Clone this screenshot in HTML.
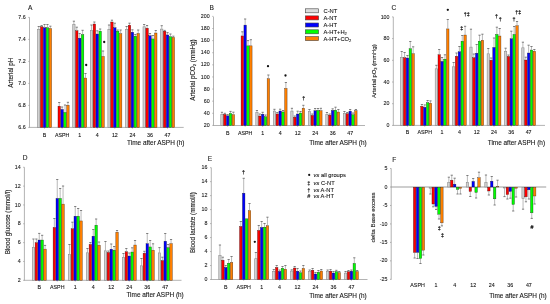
<!DOCTYPE html>
<html><head><meta charset="utf-8"><title>Figure</title>
<style>
html,body{margin:0;padding:0;background:#fff;}
body{width:550px;height:304px;overflow:hidden;}
svg{display:block;font-family:"Liberation Sans",sans-serif;filter:blur(0.3px);}
text{stroke:#151515;stroke-width:0.1px;}
</style></head><body>
<svg width="550" height="304" viewBox="0 0 550 304">
<g>
<rect width="550" height="304" fill="#fff"/>
<line x1="29.5" y1="17.4" x2="29.5" y2="127.8" stroke="#9a9a9a" stroke-width="0.75"/>
<line x1="29.5" y1="127.4" x2="183.7" y2="127.4" stroke="#9a9a9a" stroke-width="0.75"/>
<line x1="28.3" y1="127.4" x2="29.5" y2="127.4" stroke="#9a9a9a" stroke-width="0.75"/>
<text x="25.7" y="129" font-size="5.3" text-anchor="end" fill="#262626">6.6</text>
<line x1="28.3" y1="105.4" x2="29.5" y2="105.4" stroke="#9a9a9a" stroke-width="0.75"/>
<text x="25.7" y="107" font-size="5.3" text-anchor="end" fill="#262626">6.8</text>
<line x1="28.3" y1="83.4" x2="29.5" y2="83.4" stroke="#9a9a9a" stroke-width="0.75"/>
<text x="25.7" y="85" font-size="5.3" text-anchor="end" fill="#262626">7.0</text>
<line x1="28.3" y1="61.4" x2="29.5" y2="61.4" stroke="#9a9a9a" stroke-width="0.75"/>
<text x="25.7" y="63" font-size="5.3" text-anchor="end" fill="#262626">7.2</text>
<line x1="28.3" y1="39.4" x2="29.5" y2="39.4" stroke="#9a9a9a" stroke-width="0.75"/>
<text x="25.7" y="41" font-size="5.3" text-anchor="end" fill="#262626">7.4</text>
<line x1="28.3" y1="17.4" x2="29.5" y2="17.4" stroke="#9a9a9a" stroke-width="0.75"/>
<text x="25.7" y="19" font-size="5.3" text-anchor="end" fill="#262626">7.6</text>
<line x1="44.55" y1="127.4" x2="44.55" y2="128.6" stroke="#9a9a9a" stroke-width="0.75"/>
<text x="44.55" y="136.7" font-size="5.3" text-anchor="middle" fill="#151515">B</text>
<rect x="37.6" y="29.3" width="2.3" height="98.1" fill="#d2d2d2" stroke="#8a8a8a" stroke-width="0.6"/>
<line x1="38.75" y1="29" x2="38.75" y2="26.5" stroke="#8a8a8a" stroke-width="0.6"/>
<line x1="37.65" y1="26.5" x2="39.85" y2="26.5" stroke="#5a5a5a" stroke-width="0.75"/>
<rect x="40.42" y="26.72" width="2.46" height="100.68" fill="#ff0000" stroke="rgba(40,0,0,0.75)" stroke-width="0.45"/>
<line x1="41.65" y1="26.5" x2="41.65" y2="25.6" stroke="#8a8a8a" stroke-width="0.6"/>
<line x1="40.55" y1="25.6" x2="42.75" y2="25.6" stroke="#5a5a5a" stroke-width="0.75"/>
<rect x="43.32" y="27.72" width="2.46" height="99.68" fill="#0000ff" stroke="rgba(0,0,30,0.75)" stroke-width="0.45"/>
<line x1="44.55" y1="27.5" x2="44.55" y2="24.5" stroke="#8a8a8a" stroke-width="0.6"/>
<line x1="43.45" y1="24.5" x2="45.65" y2="24.5" stroke="#5a5a5a" stroke-width="0.75"/>
<rect x="46.22" y="27.72" width="2.46" height="99.68" fill="#00ff00" stroke="rgba(0,30,0,0.75)" stroke-width="0.45"/>
<line x1="47.45" y1="27.5" x2="47.45" y2="24.5" stroke="#8a8a8a" stroke-width="0.6"/>
<line x1="46.35" y1="24.5" x2="48.55" y2="24.5" stroke="#5a5a5a" stroke-width="0.75"/>
<rect x="49.12" y="28.52" width="2.46" height="98.88" fill="#ff8000" stroke="rgba(50,20,0,0.75)" stroke-width="0.45"/>
<line x1="50.35" y1="28.3" x2="50.35" y2="26.2" stroke="#8a8a8a" stroke-width="0.6"/>
<line x1="49.25" y1="26.2" x2="51.45" y2="26.2" stroke="#5a5a5a" stroke-width="0.75"/>
<line x1="62.12" y1="127.4" x2="62.12" y2="128.6" stroke="#9a9a9a" stroke-width="0.75"/>
<text x="62.12" y="136.7" font-size="5.3" text-anchor="middle" fill="#151515">ASPH</text>
<rect x="57.99" y="106.22" width="2.46" height="21.18" fill="#ff0000" stroke="rgba(40,0,0,0.75)" stroke-width="0.45"/>
<line x1="59.22" y1="106" x2="59.22" y2="102.5" stroke="#8a8a8a" stroke-width="0.6"/>
<line x1="58.12" y1="102.5" x2="60.32" y2="102.5" stroke="#5a5a5a" stroke-width="0.75"/>
<rect x="60.89" y="109.42" width="2.46" height="17.98" fill="#0000ff" stroke="rgba(0,0,30,0.75)" stroke-width="0.45"/>
<line x1="62.12" y1="109.2" x2="62.12" y2="107" stroke="#8a8a8a" stroke-width="0.6"/>
<line x1="61.02" y1="107" x2="63.22" y2="107" stroke="#5a5a5a" stroke-width="0.75"/>
<rect x="63.79" y="112.42" width="2.46" height="14.98" fill="#00ff00" stroke="rgba(0,30,0,0.75)" stroke-width="0.45"/>
<line x1="65.02" y1="112.2" x2="65.02" y2="105" stroke="#8a8a8a" stroke-width="0.6"/>
<line x1="63.92" y1="105" x2="66.12" y2="105" stroke="#5a5a5a" stroke-width="0.75"/>
<rect x="66.69" y="105.22" width="2.46" height="22.18" fill="#ff8000" stroke="rgba(50,20,0,0.75)" stroke-width="0.45"/>
<line x1="67.92" y1="105" x2="67.92" y2="102.3" stroke="#8a8a8a" stroke-width="0.6"/>
<line x1="66.82" y1="102.3" x2="69.02" y2="102.3" stroke="#5a5a5a" stroke-width="0.75"/>
<line x1="79.69" y1="127.4" x2="79.69" y2="128.6" stroke="#9a9a9a" stroke-width="0.75"/>
<text x="79.69" y="136.7" font-size="5.3" text-anchor="middle" fill="#151515">1</text>
<rect x="72.74" y="24.4" width="2.3" height="103" fill="#d2d2d2" stroke="#8a8a8a" stroke-width="0.6"/>
<line x1="73.89" y1="24.1" x2="73.89" y2="21.2" stroke="#8a8a8a" stroke-width="0.6"/>
<line x1="72.79" y1="21.2" x2="74.99" y2="21.2" stroke="#5a5a5a" stroke-width="0.75"/>
<rect x="75.56" y="30.72" width="2.46" height="96.68" fill="#ff0000" stroke="rgba(40,0,0,0.75)" stroke-width="0.45"/>
<line x1="76.79" y1="30.5" x2="76.79" y2="27.2" stroke="#8a8a8a" stroke-width="0.6"/>
<line x1="75.69" y1="27.2" x2="77.89" y2="27.2" stroke="#5a5a5a" stroke-width="0.75"/>
<rect x="78.46" y="38.22" width="2.46" height="89.18" fill="#0000ff" stroke="rgba(0,0,30,0.75)" stroke-width="0.45"/>
<line x1="79.69" y1="38" x2="79.69" y2="33.5" stroke="#8a8a8a" stroke-width="0.6"/>
<line x1="78.59" y1="33.5" x2="80.79" y2="33.5" stroke="#5a5a5a" stroke-width="0.75"/>
<rect x="81.36" y="34.52" width="2.46" height="92.88" fill="#00ff00" stroke="rgba(0,30,0,0.75)" stroke-width="0.45"/>
<line x1="82.59" y1="34.3" x2="82.59" y2="30.3" stroke="#8a8a8a" stroke-width="0.6"/>
<line x1="81.49" y1="30.3" x2="83.69" y2="30.3" stroke="#5a5a5a" stroke-width="0.75"/>
<rect x="84.26" y="78.02" width="2.46" height="49.38" fill="#ff8000" stroke="rgba(50,20,0,0.75)" stroke-width="0.45"/>
<line x1="85.49" y1="77.8" x2="85.49" y2="73.5" stroke="#8a8a8a" stroke-width="0.6"/>
<line x1="84.39" y1="73.5" x2="86.59" y2="73.5" stroke="#5a5a5a" stroke-width="0.75"/>
<line x1="97.26" y1="127.4" x2="97.26" y2="128.6" stroke="#9a9a9a" stroke-width="0.75"/>
<text x="97.26" y="136.7" font-size="5.3" text-anchor="middle" fill="#151515">4</text>
<rect x="90.31" y="30.3" width="2.3" height="97.1" fill="#d2d2d2" stroke="#8a8a8a" stroke-width="0.6"/>
<line x1="91.46" y1="30" x2="91.46" y2="25" stroke="#8a8a8a" stroke-width="0.6"/>
<line x1="90.36" y1="25" x2="92.56" y2="25" stroke="#5a5a5a" stroke-width="0.75"/>
<rect x="93.13" y="24.02" width="2.46" height="103.38" fill="#ff0000" stroke="rgba(40,0,0,0.75)" stroke-width="0.45"/>
<line x1="94.36" y1="23.8" x2="94.36" y2="22" stroke="#8a8a8a" stroke-width="0.6"/>
<line x1="93.26" y1="22" x2="95.46" y2="22" stroke="#5a5a5a" stroke-width="0.75"/>
<rect x="96.03" y="34.02" width="2.46" height="93.38" fill="#0000ff" stroke="rgba(0,0,30,0.75)" stroke-width="0.45"/>
<line x1="97.26" y1="33.8" x2="97.26" y2="30.8" stroke="#8a8a8a" stroke-width="0.6"/>
<line x1="96.16" y1="30.8" x2="98.36" y2="30.8" stroke="#5a5a5a" stroke-width="0.75"/>
<rect x="98.93" y="31.22" width="2.46" height="96.18" fill="#00ff00" stroke="rgba(0,30,0,0.75)" stroke-width="0.45"/>
<line x1="100.16" y1="31" x2="100.16" y2="29" stroke="#8a8a8a" stroke-width="0.6"/>
<line x1="99.06" y1="29" x2="101.26" y2="29" stroke="#5a5a5a" stroke-width="0.75"/>
<rect x="101.83" y="56.42" width="2.46" height="70.98" fill="#ff8000" stroke="rgba(50,20,0,0.75)" stroke-width="0.45"/>
<line x1="103.06" y1="56.2" x2="103.06" y2="51" stroke="#8a8a8a" stroke-width="0.6"/>
<line x1="101.96" y1="51" x2="104.16" y2="51" stroke="#5a5a5a" stroke-width="0.75"/>
<line x1="114.83" y1="127.4" x2="114.83" y2="128.6" stroke="#9a9a9a" stroke-width="0.75"/>
<text x="114.83" y="136.7" font-size="5.3" text-anchor="middle" fill="#151515">12</text>
<rect x="107.88" y="29.3" width="2.3" height="98.1" fill="#d2d2d2" stroke="#8a8a8a" stroke-width="0.6"/>
<line x1="109.03" y1="29" x2="109.03" y2="25" stroke="#8a8a8a" stroke-width="0.6"/>
<line x1="107.93" y1="25" x2="110.13" y2="25" stroke="#5a5a5a" stroke-width="0.75"/>
<rect x="110.7" y="22.02" width="2.46" height="105.38" fill="#ff0000" stroke="rgba(40,0,0,0.75)" stroke-width="0.45"/>
<line x1="111.93" y1="21.8" x2="111.93" y2="20.2" stroke="#8a8a8a" stroke-width="0.6"/>
<line x1="110.83" y1="20.2" x2="113.03" y2="20.2" stroke="#5a5a5a" stroke-width="0.75"/>
<rect x="113.6" y="27.72" width="2.46" height="99.68" fill="#0000ff" stroke="rgba(0,0,30,0.75)" stroke-width="0.45"/>
<line x1="114.83" y1="27.5" x2="114.83" y2="23.2" stroke="#8a8a8a" stroke-width="0.6"/>
<line x1="113.73" y1="23.2" x2="115.93" y2="23.2" stroke="#5a5a5a" stroke-width="0.75"/>
<rect x="116.5" y="31.22" width="2.46" height="96.18" fill="#00ff00" stroke="rgba(0,30,0,0.75)" stroke-width="0.45"/>
<line x1="117.73" y1="31" x2="117.73" y2="30" stroke="#8a8a8a" stroke-width="0.6"/>
<line x1="116.63" y1="30" x2="118.83" y2="30" stroke="#5a5a5a" stroke-width="0.75"/>
<rect x="119.4" y="33.72" width="2.46" height="93.68" fill="#ff8000" stroke="rgba(50,20,0,0.75)" stroke-width="0.45"/>
<line x1="120.63" y1="33.5" x2="120.63" y2="30" stroke="#8a8a8a" stroke-width="0.6"/>
<line x1="119.53" y1="30" x2="121.73" y2="30" stroke="#5a5a5a" stroke-width="0.75"/>
<line x1="132.4" y1="127.4" x2="132.4" y2="128.6" stroke="#9a9a9a" stroke-width="0.75"/>
<text x="132.4" y="136.7" font-size="5.3" text-anchor="middle" fill="#151515">24</text>
<rect x="125.45" y="29.3" width="2.3" height="98.1" fill="#d2d2d2" stroke="#8a8a8a" stroke-width="0.6"/>
<line x1="126.6" y1="29" x2="126.6" y2="26.5" stroke="#8a8a8a" stroke-width="0.6"/>
<line x1="125.5" y1="26.5" x2="127.7" y2="26.5" stroke="#5a5a5a" stroke-width="0.75"/>
<rect x="128.27" y="25.22" width="2.46" height="102.18" fill="#ff0000" stroke="rgba(40,0,0,0.75)" stroke-width="0.45"/>
<line x1="129.5" y1="25" x2="129.5" y2="23.2" stroke="#8a8a8a" stroke-width="0.6"/>
<line x1="128.4" y1="23.2" x2="130.6" y2="23.2" stroke="#5a5a5a" stroke-width="0.75"/>
<rect x="131.17" y="32.22" width="2.46" height="95.18" fill="#0000ff" stroke="rgba(0,0,30,0.75)" stroke-width="0.45"/>
<line x1="132.4" y1="32" x2="132.4" y2="29.8" stroke="#8a8a8a" stroke-width="0.6"/>
<line x1="131.3" y1="29.8" x2="133.5" y2="29.8" stroke="#5a5a5a" stroke-width="0.75"/>
<rect x="134.07" y="36.22" width="2.46" height="91.18" fill="#00ff00" stroke="rgba(0,30,0,0.75)" stroke-width="0.45"/>
<line x1="135.3" y1="36" x2="135.3" y2="34.5" stroke="#8a8a8a" stroke-width="0.6"/>
<line x1="134.2" y1="34.5" x2="136.4" y2="34.5" stroke="#5a5a5a" stroke-width="0.75"/>
<rect x="136.97" y="33.42" width="2.46" height="93.98" fill="#ff8000" stroke="rgba(50,20,0,0.75)" stroke-width="0.45"/>
<line x1="138.2" y1="33.2" x2="138.2" y2="30" stroke="#8a8a8a" stroke-width="0.6"/>
<line x1="137.1" y1="30" x2="139.3" y2="30" stroke="#5a5a5a" stroke-width="0.75"/>
<line x1="149.97" y1="127.4" x2="149.97" y2="128.6" stroke="#9a9a9a" stroke-width="0.75"/>
<text x="149.97" y="136.7" font-size="5.3" text-anchor="middle" fill="#151515">36</text>
<rect x="143.02" y="26.8" width="2.3" height="100.6" fill="#d2d2d2" stroke="#8a8a8a" stroke-width="0.6"/>
<line x1="144.17" y1="26.5" x2="144.17" y2="24.5" stroke="#8a8a8a" stroke-width="0.6"/>
<line x1="143.07" y1="24.5" x2="145.27" y2="24.5" stroke="#5a5a5a" stroke-width="0.75"/>
<rect x="145.84" y="28.22" width="2.46" height="99.18" fill="#ff0000" stroke="rgba(40,0,0,0.75)" stroke-width="0.45"/>
<line x1="147.07" y1="28" x2="147.07" y2="25.5" stroke="#8a8a8a" stroke-width="0.6"/>
<line x1="145.97" y1="25.5" x2="148.17" y2="25.5" stroke="#5a5a5a" stroke-width="0.75"/>
<rect x="148.74" y="35.72" width="2.46" height="91.68" fill="#0000ff" stroke="rgba(0,0,30,0.75)" stroke-width="0.45"/>
<line x1="149.97" y1="35.5" x2="149.97" y2="33.5" stroke="#8a8a8a" stroke-width="0.6"/>
<line x1="148.87" y1="33.5" x2="151.07" y2="33.5" stroke="#5a5a5a" stroke-width="0.75"/>
<rect x="151.64" y="38.92" width="2.46" height="88.48" fill="#00ff00" stroke="rgba(0,30,0,0.75)" stroke-width="0.45"/>
<line x1="152.87" y1="38.7" x2="152.87" y2="35.5" stroke="#8a8a8a" stroke-width="0.6"/>
<line x1="151.77" y1="35.5" x2="153.97" y2="35.5" stroke="#5a5a5a" stroke-width="0.75"/>
<rect x="154.54" y="33.02" width="2.46" height="94.38" fill="#ff8000" stroke="rgba(50,20,0,0.75)" stroke-width="0.45"/>
<line x1="155.77" y1="32.8" x2="155.77" y2="30.5" stroke="#8a8a8a" stroke-width="0.6"/>
<line x1="154.67" y1="30.5" x2="156.87" y2="30.5" stroke="#5a5a5a" stroke-width="0.75"/>
<line x1="167.54" y1="127.4" x2="167.54" y2="128.6" stroke="#9a9a9a" stroke-width="0.75"/>
<text x="167.54" y="136.7" font-size="5.3" text-anchor="middle" fill="#151515">47</text>
<rect x="160.59" y="29.1" width="2.3" height="98.3" fill="#d2d2d2" stroke="#8a8a8a" stroke-width="0.6"/>
<line x1="161.74" y1="28.8" x2="161.74" y2="25.7" stroke="#8a8a8a" stroke-width="0.6"/>
<line x1="160.64" y1="25.7" x2="162.84" y2="25.7" stroke="#5a5a5a" stroke-width="0.75"/>
<rect x="163.41" y="31.22" width="2.46" height="96.18" fill="#ff0000" stroke="rgba(40,0,0,0.75)" stroke-width="0.45"/>
<line x1="164.64" y1="31" x2="164.64" y2="30.4" stroke="#8a8a8a" stroke-width="0.6"/>
<line x1="163.54" y1="30.4" x2="165.74" y2="30.4" stroke="#5a5a5a" stroke-width="0.75"/>
<rect x="166.31" y="34.92" width="2.46" height="92.48" fill="#0000ff" stroke="rgba(0,0,30,0.75)" stroke-width="0.45"/>
<line x1="167.54" y1="34.7" x2="167.54" y2="32.6" stroke="#8a8a8a" stroke-width="0.6"/>
<line x1="166.44" y1="32.6" x2="168.64" y2="32.6" stroke="#5a5a5a" stroke-width="0.75"/>
<rect x="169.21" y="36.72" width="2.46" height="90.68" fill="#00ff00" stroke="rgba(0,30,0,0.75)" stroke-width="0.45"/>
<line x1="170.44" y1="36.5" x2="170.44" y2="34" stroke="#8a8a8a" stroke-width="0.6"/>
<line x1="169.34" y1="34" x2="171.54" y2="34" stroke="#5a5a5a" stroke-width="0.75"/>
<rect x="172.11" y="37.42" width="2.46" height="89.98" fill="#ff8000" stroke="rgba(50,20,0,0.75)" stroke-width="0.45"/>
<line x1="173.34" y1="37.2" x2="173.34" y2="36.2" stroke="#8a8a8a" stroke-width="0.6"/>
<line x1="172.24" y1="36.2" x2="174.44" y2="36.2" stroke="#5a5a5a" stroke-width="0.75"/>
<circle cx="86.2" cy="65" r="1.15" fill="#111"/>
<circle cx="104.2" cy="42" r="1.15" fill="#111"/>
<text x="27.9" y="9.6" font-size="6.6" text-anchor="start" fill="#222">A</text>
<text transform="translate(11.4 72.7) rotate(-90)" x="0" y="1.9" font-size="6.35" text-anchor="middle" fill="#151515">Arterial pH</text>
<text x="127.1" y="144.9" font-size="6.45" text-anchor="start" fill="#151515">Time after ASPH (h)</text>
<line x1="213.5" y1="16.9" x2="213.5" y2="125.9" stroke="#9a9a9a" stroke-width="0.75"/>
<line x1="213.5" y1="125.5" x2="365" y2="125.5" stroke="#9a9a9a" stroke-width="0.75"/>
<line x1="212.3" y1="125.4" x2="213.5" y2="125.4" stroke="#9a9a9a" stroke-width="0.75"/>
<text x="209.7" y="127" font-size="5.3" text-anchor="end" fill="#262626">20</text>
<line x1="212.3" y1="113.29" x2="213.5" y2="113.29" stroke="#9a9a9a" stroke-width="0.75"/>
<text x="209.7" y="114.89" font-size="5.3" text-anchor="end" fill="#262626">40</text>
<line x1="212.3" y1="101.18" x2="213.5" y2="101.18" stroke="#9a9a9a" stroke-width="0.75"/>
<text x="209.7" y="102.78" font-size="5.3" text-anchor="end" fill="#262626">60</text>
<line x1="212.3" y1="89.06" x2="213.5" y2="89.06" stroke="#9a9a9a" stroke-width="0.75"/>
<text x="209.7" y="90.66" font-size="5.3" text-anchor="end" fill="#262626">80</text>
<line x1="212.3" y1="76.95" x2="213.5" y2="76.95" stroke="#9a9a9a" stroke-width="0.75"/>
<text x="209.7" y="78.55" font-size="5.3" text-anchor="end" fill="#262626">100</text>
<line x1="212.3" y1="64.84" x2="213.5" y2="64.84" stroke="#9a9a9a" stroke-width="0.75"/>
<text x="209.7" y="66.44" font-size="5.3" text-anchor="end" fill="#262626">120</text>
<line x1="212.3" y1="52.73" x2="213.5" y2="52.73" stroke="#9a9a9a" stroke-width="0.75"/>
<text x="209.7" y="54.33" font-size="5.3" text-anchor="end" fill="#262626">140</text>
<line x1="212.3" y1="40.62" x2="213.5" y2="40.62" stroke="#9a9a9a" stroke-width="0.75"/>
<text x="209.7" y="42.22" font-size="5.3" text-anchor="end" fill="#262626">160</text>
<line x1="212.3" y1="28.5" x2="213.5" y2="28.5" stroke="#9a9a9a" stroke-width="0.75"/>
<text x="209.7" y="30.1" font-size="5.3" text-anchor="end" fill="#262626">180</text>
<line x1="212.3" y1="16.39" x2="213.5" y2="16.39" stroke="#9a9a9a" stroke-width="0.75"/>
<text x="209.7" y="17.99" font-size="5.3" text-anchor="end" fill="#262626">200</text>
<line x1="227.65" y1="125.5" x2="227.65" y2="126.7" stroke="#9a9a9a" stroke-width="0.75"/>
<text x="227.65" y="134.8" font-size="5.3" text-anchor="middle" fill="#151515">B</text>
<rect x="220.8" y="114.3" width="2.26" height="11.2" fill="#d2d2d2" stroke="#8a8a8a" stroke-width="0.6"/>
<line x1="221.93" y1="114" x2="221.93" y2="112.3" stroke="#8a8a8a" stroke-width="0.6"/>
<line x1="220.83" y1="112.3" x2="223.03" y2="112.3" stroke="#5a5a5a" stroke-width="0.75"/>
<rect x="223.58" y="114.42" width="2.42" height="11.08" fill="#ff0000" stroke="rgba(40,0,0,0.75)" stroke-width="0.45"/>
<line x1="224.79" y1="114.2" x2="224.79" y2="113.3" stroke="#8a8a8a" stroke-width="0.6"/>
<line x1="223.69" y1="113.3" x2="225.89" y2="113.3" stroke="#5a5a5a" stroke-width="0.75"/>
<rect x="226.44" y="115.82" width="2.42" height="9.68" fill="#0000ff" stroke="rgba(0,0,30,0.75)" stroke-width="0.45"/>
<line x1="227.65" y1="115.6" x2="227.65" y2="114.6" stroke="#8a8a8a" stroke-width="0.6"/>
<line x1="226.55" y1="114.6" x2="228.75" y2="114.6" stroke="#5a5a5a" stroke-width="0.75"/>
<rect x="229.3" y="113.42" width="2.42" height="12.08" fill="#00ff00" stroke="rgba(0,30,0,0.75)" stroke-width="0.45"/>
<line x1="230.51" y1="113.2" x2="230.51" y2="111.4" stroke="#8a8a8a" stroke-width="0.6"/>
<line x1="229.41" y1="111.4" x2="231.61" y2="111.4" stroke="#5a5a5a" stroke-width="0.75"/>
<rect x="232.16" y="114.72" width="2.42" height="10.78" fill="#ff8000" stroke="rgba(50,20,0,0.75)" stroke-width="0.45"/>
<line x1="233.37" y1="114.5" x2="233.37" y2="112.2" stroke="#8a8a8a" stroke-width="0.6"/>
<line x1="232.27" y1="112.2" x2="234.47" y2="112.2" stroke="#5a5a5a" stroke-width="0.75"/>
<line x1="245.15" y1="125.5" x2="245.15" y2="126.7" stroke="#9a9a9a" stroke-width="0.75"/>
<text x="245.15" y="134.8" font-size="5.3" text-anchor="middle" fill="#151515">ASPH</text>
<rect x="241.08" y="35.92" width="2.42" height="89.58" fill="#ff0000" stroke="rgba(40,0,0,0.75)" stroke-width="0.45"/>
<line x1="242.29" y1="35.7" x2="242.29" y2="31.8" stroke="#8a8a8a" stroke-width="0.6"/>
<line x1="241.19" y1="31.8" x2="243.39" y2="31.8" stroke="#5a5a5a" stroke-width="0.75"/>
<rect x="243.94" y="25.12" width="2.42" height="100.38" fill="#0000ff" stroke="rgba(0,0,30,0.75)" stroke-width="0.45"/>
<line x1="245.15" y1="24.9" x2="245.15" y2="19" stroke="#8a8a8a" stroke-width="0.6"/>
<line x1="244.05" y1="19" x2="246.25" y2="19" stroke="#5a5a5a" stroke-width="0.75"/>
<rect x="246.8" y="45.82" width="2.42" height="79.68" fill="#00ff00" stroke="rgba(0,30,0,0.75)" stroke-width="0.45"/>
<line x1="248.01" y1="45.6" x2="248.01" y2="40.6" stroke="#8a8a8a" stroke-width="0.6"/>
<line x1="246.91" y1="40.6" x2="249.11" y2="40.6" stroke="#5a5a5a" stroke-width="0.75"/>
<rect x="249.66" y="45.82" width="2.42" height="79.68" fill="#ff8000" stroke="rgba(50,20,0,0.75)" stroke-width="0.45"/>
<line x1="250.87" y1="45.6" x2="250.87" y2="39.7" stroke="#8a8a8a" stroke-width="0.6"/>
<line x1="249.77" y1="39.7" x2="251.97" y2="39.7" stroke="#5a5a5a" stroke-width="0.75"/>
<line x1="262.65" y1="125.5" x2="262.65" y2="126.7" stroke="#9a9a9a" stroke-width="0.75"/>
<text x="262.65" y="134.8" font-size="5.3" text-anchor="middle" fill="#151515">1</text>
<rect x="255.8" y="112.3" width="2.26" height="13.2" fill="#d2d2d2" stroke="#8a8a8a" stroke-width="0.6"/>
<line x1="256.93" y1="112" x2="256.93" y2="110.5" stroke="#8a8a8a" stroke-width="0.6"/>
<line x1="255.83" y1="110.5" x2="258.03" y2="110.5" stroke="#5a5a5a" stroke-width="0.75"/>
<rect x="258.58" y="116.02" width="2.42" height="9.48" fill="#ff0000" stroke="rgba(40,0,0,0.75)" stroke-width="0.45"/>
<line x1="259.79" y1="115.8" x2="259.79" y2="114" stroke="#8a8a8a" stroke-width="0.6"/>
<line x1="258.69" y1="114" x2="260.89" y2="114" stroke="#5a5a5a" stroke-width="0.75"/>
<rect x="261.44" y="114.22" width="2.42" height="11.28" fill="#0000ff" stroke="rgba(0,0,30,0.75)" stroke-width="0.45"/>
<line x1="262.65" y1="114" x2="262.65" y2="112.3" stroke="#8a8a8a" stroke-width="0.6"/>
<line x1="261.55" y1="112.3" x2="263.75" y2="112.3" stroke="#5a5a5a" stroke-width="0.75"/>
<rect x="264.3" y="116.72" width="2.42" height="8.78" fill="#00ff00" stroke="rgba(0,30,0,0.75)" stroke-width="0.45"/>
<line x1="265.51" y1="116.5" x2="265.51" y2="115" stroke="#8a8a8a" stroke-width="0.6"/>
<line x1="264.41" y1="115" x2="266.61" y2="115" stroke="#5a5a5a" stroke-width="0.75"/>
<rect x="267.16" y="78.72" width="2.42" height="46.78" fill="#ff8000" stroke="rgba(50,20,0,0.75)" stroke-width="0.45"/>
<line x1="268.37" y1="78.5" x2="268.37" y2="75" stroke="#8a8a8a" stroke-width="0.6"/>
<line x1="267.27" y1="75" x2="269.47" y2="75" stroke="#5a5a5a" stroke-width="0.75"/>
<line x1="280.15" y1="125.5" x2="280.15" y2="126.7" stroke="#9a9a9a" stroke-width="0.75"/>
<text x="280.15" y="134.8" font-size="5.3" text-anchor="middle" fill="#151515">4</text>
<rect x="273.3" y="111.1" width="2.26" height="14.4" fill="#d2d2d2" stroke="#8a8a8a" stroke-width="0.6"/>
<line x1="274.43" y1="110.8" x2="274.43" y2="109.3" stroke="#8a8a8a" stroke-width="0.6"/>
<line x1="273.33" y1="109.3" x2="275.53" y2="109.3" stroke="#5a5a5a" stroke-width="0.75"/>
<rect x="276.08" y="113.92" width="2.42" height="11.58" fill="#ff0000" stroke="rgba(40,0,0,0.75)" stroke-width="0.45"/>
<line x1="277.29" y1="113.7" x2="277.29" y2="112.5" stroke="#8a8a8a" stroke-width="0.6"/>
<line x1="276.19" y1="112.5" x2="278.39" y2="112.5" stroke="#5a5a5a" stroke-width="0.75"/>
<rect x="278.94" y="111.02" width="2.42" height="14.48" fill="#0000ff" stroke="rgba(0,0,30,0.75)" stroke-width="0.45"/>
<line x1="280.15" y1="110.8" x2="280.15" y2="109.2" stroke="#8a8a8a" stroke-width="0.6"/>
<line x1="279.05" y1="109.2" x2="281.25" y2="109.2" stroke="#5a5a5a" stroke-width="0.75"/>
<rect x="281.8" y="111.92" width="2.42" height="13.58" fill="#00ff00" stroke="rgba(0,30,0,0.75)" stroke-width="0.45"/>
<line x1="283.01" y1="111.7" x2="283.01" y2="110.5" stroke="#8a8a8a" stroke-width="0.6"/>
<line x1="281.91" y1="110.5" x2="284.11" y2="110.5" stroke="#5a5a5a" stroke-width="0.75"/>
<rect x="284.66" y="88.42" width="2.42" height="37.08" fill="#ff8000" stroke="rgba(50,20,0,0.75)" stroke-width="0.45"/>
<line x1="285.87" y1="88.2" x2="285.87" y2="82.5" stroke="#8a8a8a" stroke-width="0.6"/>
<line x1="284.77" y1="82.5" x2="286.97" y2="82.5" stroke="#5a5a5a" stroke-width="0.75"/>
<line x1="297.65" y1="125.5" x2="297.65" y2="126.7" stroke="#9a9a9a" stroke-width="0.75"/>
<text x="297.65" y="134.8" font-size="5.3" text-anchor="middle" fill="#151515">12</text>
<rect x="290.8" y="111.1" width="2.26" height="14.4" fill="#d2d2d2" stroke="#8a8a8a" stroke-width="0.6"/>
<line x1="291.93" y1="110.8" x2="291.93" y2="108.3" stroke="#8a8a8a" stroke-width="0.6"/>
<line x1="290.83" y1="108.3" x2="293.03" y2="108.3" stroke="#5a5a5a" stroke-width="0.75"/>
<rect x="293.58" y="117.22" width="2.42" height="8.28" fill="#ff0000" stroke="rgba(40,0,0,0.75)" stroke-width="0.45"/>
<line x1="294.79" y1="117" x2="294.79" y2="116" stroke="#8a8a8a" stroke-width="0.6"/>
<line x1="293.69" y1="116" x2="295.89" y2="116" stroke="#5a5a5a" stroke-width="0.75"/>
<rect x="296.44" y="114.02" width="2.42" height="11.48" fill="#0000ff" stroke="rgba(0,0,30,0.75)" stroke-width="0.45"/>
<line x1="297.65" y1="113.8" x2="297.65" y2="111.2" stroke="#8a8a8a" stroke-width="0.6"/>
<line x1="296.55" y1="111.2" x2="298.75" y2="111.2" stroke="#5a5a5a" stroke-width="0.75"/>
<rect x="299.3" y="113.02" width="2.42" height="12.48" fill="#00ff00" stroke="rgba(0,30,0,0.75)" stroke-width="0.45"/>
<line x1="300.51" y1="112.8" x2="300.51" y2="111.5" stroke="#8a8a8a" stroke-width="0.6"/>
<line x1="299.41" y1="111.5" x2="301.61" y2="111.5" stroke="#5a5a5a" stroke-width="0.75"/>
<rect x="302.16" y="108.22" width="2.42" height="17.28" fill="#ff8000" stroke="rgba(50,20,0,0.75)" stroke-width="0.45"/>
<line x1="303.37" y1="108" x2="303.37" y2="105.3" stroke="#8a8a8a" stroke-width="0.6"/>
<line x1="302.27" y1="105.3" x2="304.47" y2="105.3" stroke="#5a5a5a" stroke-width="0.75"/>
<line x1="315.15" y1="125.5" x2="315.15" y2="126.7" stroke="#9a9a9a" stroke-width="0.75"/>
<text x="315.15" y="134.8" font-size="5.3" text-anchor="middle" fill="#151515">24</text>
<rect x="308.3" y="111.3" width="2.26" height="14.2" fill="#d2d2d2" stroke="#8a8a8a" stroke-width="0.6"/>
<line x1="309.43" y1="111" x2="309.43" y2="109.5" stroke="#8a8a8a" stroke-width="0.6"/>
<line x1="308.33" y1="109.5" x2="310.53" y2="109.5" stroke="#5a5a5a" stroke-width="0.75"/>
<rect x="311.08" y="115.42" width="2.42" height="10.08" fill="#ff0000" stroke="rgba(40,0,0,0.75)" stroke-width="0.45"/>
<line x1="312.29" y1="115.2" x2="312.29" y2="114" stroke="#8a8a8a" stroke-width="0.6"/>
<line x1="311.19" y1="114" x2="313.39" y2="114" stroke="#5a5a5a" stroke-width="0.75"/>
<rect x="313.94" y="110.72" width="2.42" height="14.78" fill="#0000ff" stroke="rgba(0,0,30,0.75)" stroke-width="0.45"/>
<line x1="315.15" y1="110.5" x2="315.15" y2="108.5" stroke="#8a8a8a" stroke-width="0.6"/>
<line x1="314.05" y1="108.5" x2="316.25" y2="108.5" stroke="#5a5a5a" stroke-width="0.75"/>
<rect x="316.8" y="110.42" width="2.42" height="15.08" fill="#00ff00" stroke="rgba(0,30,0,0.75)" stroke-width="0.45"/>
<line x1="318.01" y1="110.2" x2="318.01" y2="108.5" stroke="#8a8a8a" stroke-width="0.6"/>
<line x1="316.91" y1="108.5" x2="319.11" y2="108.5" stroke="#5a5a5a" stroke-width="0.75"/>
<rect x="319.66" y="110.72" width="2.42" height="14.78" fill="#ff8000" stroke="rgba(50,20,0,0.75)" stroke-width="0.45"/>
<line x1="320.87" y1="110.5" x2="320.87" y2="108.3" stroke="#8a8a8a" stroke-width="0.6"/>
<line x1="319.77" y1="108.3" x2="321.97" y2="108.3" stroke="#5a5a5a" stroke-width="0.75"/>
<line x1="332.65" y1="125.5" x2="332.65" y2="126.7" stroke="#9a9a9a" stroke-width="0.75"/>
<text x="332.65" y="134.8" font-size="5.3" text-anchor="middle" fill="#151515">36</text>
<rect x="325.8" y="114.3" width="2.26" height="11.2" fill="#d2d2d2" stroke="#8a8a8a" stroke-width="0.6"/>
<line x1="326.93" y1="114" x2="326.93" y2="112.5" stroke="#8a8a8a" stroke-width="0.6"/>
<line x1="325.83" y1="112.5" x2="328.03" y2="112.5" stroke="#5a5a5a" stroke-width="0.75"/>
<rect x="328.58" y="115.22" width="2.42" height="10.28" fill="#ff0000" stroke="rgba(40,0,0,0.75)" stroke-width="0.45"/>
<line x1="329.79" y1="115" x2="329.79" y2="114" stroke="#8a8a8a" stroke-width="0.6"/>
<line x1="328.69" y1="114" x2="330.89" y2="114" stroke="#5a5a5a" stroke-width="0.75"/>
<rect x="331.44" y="110.42" width="2.42" height="15.08" fill="#0000ff" stroke="rgba(0,0,30,0.75)" stroke-width="0.45"/>
<line x1="332.65" y1="110.2" x2="332.65" y2="108.8" stroke="#8a8a8a" stroke-width="0.6"/>
<line x1="331.55" y1="108.8" x2="333.75" y2="108.8" stroke="#5a5a5a" stroke-width="0.75"/>
<rect x="334.3" y="110.22" width="2.42" height="15.28" fill="#00ff00" stroke="rgba(0,30,0,0.75)" stroke-width="0.45"/>
<line x1="335.51" y1="110" x2="335.51" y2="107.2" stroke="#8a8a8a" stroke-width="0.6"/>
<line x1="334.41" y1="107.2" x2="336.61" y2="107.2" stroke="#5a5a5a" stroke-width="0.75"/>
<rect x="337.16" y="112.02" width="2.42" height="13.48" fill="#ff8000" stroke="rgba(50,20,0,0.75)" stroke-width="0.45"/>
<line x1="338.37" y1="111.8" x2="338.37" y2="109.5" stroke="#8a8a8a" stroke-width="0.6"/>
<line x1="337.27" y1="109.5" x2="339.47" y2="109.5" stroke="#5a5a5a" stroke-width="0.75"/>
<line x1="350.15" y1="125.5" x2="350.15" y2="126.7" stroke="#9a9a9a" stroke-width="0.75"/>
<text x="350.15" y="134.8" font-size="5.3" text-anchor="middle" fill="#151515">47</text>
<rect x="343.3" y="113.3" width="2.26" height="12.2" fill="#d2d2d2" stroke="#8a8a8a" stroke-width="0.6"/>
<line x1="344.43" y1="113" x2="344.43" y2="111.5" stroke="#8a8a8a" stroke-width="0.6"/>
<line x1="343.33" y1="111.5" x2="345.53" y2="111.5" stroke="#5a5a5a" stroke-width="0.75"/>
<rect x="346.08" y="113.72" width="2.42" height="11.78" fill="#ff0000" stroke="rgba(40,0,0,0.75)" stroke-width="0.45"/>
<line x1="347.29" y1="113.5" x2="347.29" y2="112.5" stroke="#8a8a8a" stroke-width="0.6"/>
<line x1="346.19" y1="112.5" x2="348.39" y2="112.5" stroke="#5a5a5a" stroke-width="0.75"/>
<rect x="348.94" y="111.22" width="2.42" height="14.28" fill="#0000ff" stroke="rgba(0,0,30,0.75)" stroke-width="0.45"/>
<line x1="350.15" y1="111" x2="350.15" y2="109.5" stroke="#8a8a8a" stroke-width="0.6"/>
<line x1="349.05" y1="109.5" x2="351.25" y2="109.5" stroke="#5a5a5a" stroke-width="0.75"/>
<rect x="351.8" y="114.72" width="2.42" height="10.78" fill="#00ff00" stroke="rgba(0,30,0,0.75)" stroke-width="0.45"/>
<line x1="353.01" y1="114.5" x2="353.01" y2="113" stroke="#8a8a8a" stroke-width="0.6"/>
<line x1="351.91" y1="113" x2="354.11" y2="113" stroke="#5a5a5a" stroke-width="0.75"/>
<rect x="354.66" y="110.72" width="2.42" height="14.78" fill="#ff8000" stroke="rgba(50,20,0,0.75)" stroke-width="0.45"/>
<line x1="355.87" y1="110.5" x2="355.87" y2="109.5" stroke="#8a8a8a" stroke-width="0.6"/>
<line x1="354.77" y1="109.5" x2="356.97" y2="109.5" stroke="#5a5a5a" stroke-width="0.75"/>
<circle cx="268" cy="66.2" r="1.15" fill="#111"/>
<circle cx="285.5" cy="75.5" r="1.15" fill="#111"/>
<text x="303.8" y="100.2" font-size="5.3" text-anchor="middle" fill="#111" style="stroke-width:0.22px">†</text>
<text x="209.5" y="9.6" font-size="6.6" text-anchor="start" fill="#222">B</text>
<text transform="translate(192.9 70.1) rotate(-90)" x="0" y="1.89" font-size="6.3" text-anchor="middle" fill="#151515">Arterial pCO<tspan font-size="4" dy="1.2">2</tspan><tspan dy="-1.2"> (mmHg)</tspan></text>
<text x="309.3" y="144.7" font-size="6.45" text-anchor="start" fill="#151515">Time after ASPH (h)</text>
<line x1="393.3" y1="16.9" x2="393.3" y2="125.8" stroke="#9a9a9a" stroke-width="0.75"/>
<line x1="393.3" y1="125.4" x2="545" y2="125.4" stroke="#9a9a9a" stroke-width="0.75"/>
<line x1="392.1" y1="125.4" x2="393.3" y2="125.4" stroke="#9a9a9a" stroke-width="0.75"/>
<text x="389.5" y="127" font-size="5.3" text-anchor="end" fill="#262626">0</text>
<line x1="392.1" y1="103.7" x2="393.3" y2="103.7" stroke="#9a9a9a" stroke-width="0.75"/>
<text x="389.5" y="105.3" font-size="5.3" text-anchor="end" fill="#262626">20</text>
<line x1="392.1" y1="82" x2="393.3" y2="82" stroke="#9a9a9a" stroke-width="0.75"/>
<text x="389.5" y="83.6" font-size="5.3" text-anchor="end" fill="#262626">40</text>
<line x1="392.1" y1="60.3" x2="393.3" y2="60.3" stroke="#9a9a9a" stroke-width="0.75"/>
<text x="389.5" y="61.9" font-size="5.3" text-anchor="end" fill="#262626">60</text>
<line x1="392.1" y1="38.6" x2="393.3" y2="38.6" stroke="#9a9a9a" stroke-width="0.75"/>
<text x="389.5" y="40.2" font-size="5.3" text-anchor="end" fill="#262626">80</text>
<line x1="392.1" y1="16.9" x2="393.3" y2="16.9" stroke="#9a9a9a" stroke-width="0.75"/>
<text x="389.5" y="18.5" font-size="5.3" text-anchor="end" fill="#262626">100</text>
<line x1="407.45" y1="125.4" x2="407.45" y2="126.6" stroke="#9a9a9a" stroke-width="0.75"/>
<text x="407.45" y="134.4" font-size="5.3" text-anchor="middle" fill="#151515">B</text>
<rect x="400.6" y="57.3" width="2.26" height="68.1" fill="#d2d2d2" stroke="#8a8a8a" stroke-width="0.6"/>
<line x1="401.73" y1="57" x2="401.73" y2="51.5" stroke="#8a8a8a" stroke-width="0.6"/>
<line x1="400.63" y1="51.5" x2="402.83" y2="51.5" stroke="#5a5a5a" stroke-width="0.75"/>
<rect x="403.38" y="57.72" width="2.42" height="67.68" fill="#ff0000" stroke="rgba(40,0,0,0.75)" stroke-width="0.45"/>
<line x1="404.59" y1="57.5" x2="404.59" y2="52.5" stroke="#8a8a8a" stroke-width="0.6"/>
<line x1="403.49" y1="52.5" x2="405.69" y2="52.5" stroke="#5a5a5a" stroke-width="0.75"/>
<rect x="406.24" y="58.02" width="2.42" height="67.38" fill="#0000ff" stroke="rgba(0,0,30,0.75)" stroke-width="0.45"/>
<line x1="407.45" y1="57.8" x2="407.45" y2="55.5" stroke="#8a8a8a" stroke-width="0.6"/>
<line x1="406.35" y1="55.5" x2="408.55" y2="55.5" stroke="#5a5a5a" stroke-width="0.75"/>
<rect x="409.1" y="48.72" width="2.42" height="76.68" fill="#00ff00" stroke="rgba(0,30,0,0.75)" stroke-width="0.45"/>
<line x1="410.31" y1="48.5" x2="410.31" y2="41.5" stroke="#8a8a8a" stroke-width="0.6"/>
<line x1="409.21" y1="41.5" x2="411.41" y2="41.5" stroke="#5a5a5a" stroke-width="0.75"/>
<rect x="411.96" y="53.72" width="2.42" height="71.68" fill="#ff8000" stroke="rgba(50,20,0,0.75)" stroke-width="0.45"/>
<line x1="413.17" y1="53.5" x2="413.17" y2="46.8" stroke="#8a8a8a" stroke-width="0.6"/>
<line x1="412.07" y1="46.8" x2="414.27" y2="46.8" stroke="#5a5a5a" stroke-width="0.75"/>
<line x1="424.76" y1="125.4" x2="424.76" y2="126.6" stroke="#9a9a9a" stroke-width="0.75"/>
<text x="424.76" y="134.4" font-size="5.3" text-anchor="middle" fill="#151515">ASPH</text>
<rect x="420.69" y="106.32" width="2.42" height="19.08" fill="#ff0000" stroke="rgba(40,0,0,0.75)" stroke-width="0.45"/>
<line x1="421.9" y1="106.1" x2="421.9" y2="104.5" stroke="#8a8a8a" stroke-width="0.6"/>
<line x1="420.8" y1="104.5" x2="423" y2="104.5" stroke="#5a5a5a" stroke-width="0.75"/>
<rect x="423.55" y="107.32" width="2.42" height="18.08" fill="#0000ff" stroke="rgba(0,0,30,0.75)" stroke-width="0.45"/>
<line x1="424.76" y1="107.1" x2="424.76" y2="104.9" stroke="#8a8a8a" stroke-width="0.6"/>
<line x1="423.66" y1="104.9" x2="425.86" y2="104.9" stroke="#5a5a5a" stroke-width="0.75"/>
<rect x="426.41" y="102.62" width="2.42" height="22.78" fill="#00ff00" stroke="rgba(0,30,0,0.75)" stroke-width="0.45"/>
<line x1="427.62" y1="102.4" x2="427.62" y2="100.5" stroke="#8a8a8a" stroke-width="0.6"/>
<line x1="426.52" y1="100.5" x2="428.72" y2="100.5" stroke="#5a5a5a" stroke-width="0.75"/>
<rect x="429.27" y="103.22" width="2.42" height="22.18" fill="#ff8000" stroke="rgba(50,20,0,0.75)" stroke-width="0.45"/>
<line x1="430.48" y1="103" x2="430.48" y2="100.9" stroke="#8a8a8a" stroke-width="0.6"/>
<line x1="429.38" y1="100.9" x2="431.58" y2="100.9" stroke="#5a5a5a" stroke-width="0.75"/>
<line x1="442.07" y1="125.4" x2="442.07" y2="126.6" stroke="#9a9a9a" stroke-width="0.75"/>
<text x="442.07" y="134.4" font-size="5.3" text-anchor="middle" fill="#151515">1</text>
<rect x="435.22" y="68.8" width="2.26" height="56.6" fill="#d2d2d2" stroke="#8a8a8a" stroke-width="0.6"/>
<line x1="436.35" y1="68.5" x2="436.35" y2="65.3" stroke="#8a8a8a" stroke-width="0.6"/>
<line x1="435.25" y1="65.3" x2="437.45" y2="65.3" stroke="#5a5a5a" stroke-width="0.75"/>
<rect x="438" y="54.72" width="2.42" height="70.68" fill="#ff0000" stroke="rgba(40,0,0,0.75)" stroke-width="0.45"/>
<line x1="439.21" y1="54.5" x2="439.21" y2="49.5" stroke="#8a8a8a" stroke-width="0.6"/>
<line x1="438.11" y1="49.5" x2="440.31" y2="49.5" stroke="#5a5a5a" stroke-width="0.75"/>
<rect x="440.86" y="61.42" width="2.42" height="63.98" fill="#0000ff" stroke="rgba(0,0,30,0.75)" stroke-width="0.45"/>
<line x1="442.07" y1="61.2" x2="442.07" y2="57.5" stroke="#8a8a8a" stroke-width="0.6"/>
<line x1="440.97" y1="57.5" x2="443.17" y2="57.5" stroke="#5a5a5a" stroke-width="0.75"/>
<rect x="443.72" y="59.22" width="2.42" height="66.18" fill="#00ff00" stroke="rgba(0,30,0,0.75)" stroke-width="0.45"/>
<line x1="444.93" y1="59" x2="444.93" y2="54.8" stroke="#8a8a8a" stroke-width="0.6"/>
<line x1="443.83" y1="54.8" x2="446.03" y2="54.8" stroke="#5a5a5a" stroke-width="0.75"/>
<rect x="446.58" y="28.92" width="2.42" height="96.48" fill="#ff8000" stroke="rgba(50,20,0,0.75)" stroke-width="0.45"/>
<line x1="447.79" y1="28.7" x2="447.79" y2="19.5" stroke="#8a8a8a" stroke-width="0.6"/>
<line x1="446.69" y1="19.5" x2="448.89" y2="19.5" stroke="#5a5a5a" stroke-width="0.75"/>
<line x1="459.38" y1="125.4" x2="459.38" y2="126.6" stroke="#9a9a9a" stroke-width="0.75"/>
<text x="459.38" y="134.4" font-size="5.3" text-anchor="middle" fill="#151515">4</text>
<rect x="452.53" y="66.8" width="2.26" height="58.6" fill="#d2d2d2" stroke="#8a8a8a" stroke-width="0.6"/>
<line x1="453.66" y1="66.5" x2="453.66" y2="62.5" stroke="#8a8a8a" stroke-width="0.6"/>
<line x1="452.56" y1="62.5" x2="454.76" y2="62.5" stroke="#5a5a5a" stroke-width="0.75"/>
<rect x="455.31" y="56.22" width="2.42" height="69.18" fill="#ff0000" stroke="rgba(40,0,0,0.75)" stroke-width="0.45"/>
<line x1="456.52" y1="56" x2="456.52" y2="53" stroke="#8a8a8a" stroke-width="0.6"/>
<line x1="455.42" y1="53" x2="457.62" y2="53" stroke="#5a5a5a" stroke-width="0.75"/>
<rect x="458.17" y="51.72" width="2.42" height="73.68" fill="#0000ff" stroke="rgba(0,0,30,0.75)" stroke-width="0.45"/>
<line x1="459.38" y1="51.5" x2="459.38" y2="46.5" stroke="#8a8a8a" stroke-width="0.6"/>
<line x1="458.28" y1="46.5" x2="460.48" y2="46.5" stroke="#5a5a5a" stroke-width="0.75"/>
<rect x="461.03" y="41.22" width="2.42" height="84.18" fill="#00ff00" stroke="rgba(0,30,0,0.75)" stroke-width="0.45"/>
<line x1="462.24" y1="41" x2="462.24" y2="35.5" stroke="#8a8a8a" stroke-width="0.6"/>
<line x1="461.14" y1="35.5" x2="463.34" y2="35.5" stroke="#5a5a5a" stroke-width="0.75"/>
<rect x="463.89" y="35.02" width="2.42" height="90.38" fill="#ff8000" stroke="rgba(50,20,0,0.75)" stroke-width="0.45"/>
<line x1="465.1" y1="34.8" x2="465.1" y2="26.3" stroke="#8a8a8a" stroke-width="0.6"/>
<line x1="464" y1="26.3" x2="466.2" y2="26.3" stroke="#5a5a5a" stroke-width="0.75"/>
<line x1="476.69" y1="125.4" x2="476.69" y2="126.6" stroke="#9a9a9a" stroke-width="0.75"/>
<text x="476.69" y="134.4" font-size="5.3" text-anchor="middle" fill="#151515">12</text>
<rect x="469.84" y="47.1" width="2.26" height="78.3" fill="#d2d2d2" stroke="#8a8a8a" stroke-width="0.6"/>
<line x1="470.97" y1="46.8" x2="470.97" y2="29.2" stroke="#8a8a8a" stroke-width="0.6"/>
<line x1="469.87" y1="29.2" x2="472.07" y2="29.2" stroke="#5a5a5a" stroke-width="0.75"/>
<rect x="472.62" y="57.72" width="2.42" height="67.68" fill="#ff0000" stroke="rgba(40,0,0,0.75)" stroke-width="0.45"/>
<line x1="473.83" y1="57.5" x2="473.83" y2="54" stroke="#8a8a8a" stroke-width="0.6"/>
<line x1="472.73" y1="54" x2="474.93" y2="54" stroke="#5a5a5a" stroke-width="0.75"/>
<rect x="475.48" y="53.22" width="2.42" height="72.18" fill="#0000ff" stroke="rgba(0,0,30,0.75)" stroke-width="0.45"/>
<line x1="476.69" y1="53" x2="476.69" y2="44.5" stroke="#8a8a8a" stroke-width="0.6"/>
<line x1="475.59" y1="44.5" x2="477.79" y2="44.5" stroke="#5a5a5a" stroke-width="0.75"/>
<rect x="478.34" y="41.22" width="2.42" height="84.18" fill="#00ff00" stroke="rgba(0,30,0,0.75)" stroke-width="0.45"/>
<line x1="479.55" y1="41" x2="479.55" y2="35.2" stroke="#8a8a8a" stroke-width="0.6"/>
<line x1="478.45" y1="35.2" x2="480.65" y2="35.2" stroke="#5a5a5a" stroke-width="0.75"/>
<rect x="481.2" y="40.22" width="2.42" height="85.18" fill="#ff8000" stroke="rgba(50,20,0,0.75)" stroke-width="0.45"/>
<line x1="482.41" y1="40" x2="482.41" y2="34.2" stroke="#8a8a8a" stroke-width="0.6"/>
<line x1="481.31" y1="34.2" x2="483.51" y2="34.2" stroke="#5a5a5a" stroke-width="0.75"/>
<line x1="494" y1="125.4" x2="494" y2="126.6" stroke="#9a9a9a" stroke-width="0.75"/>
<text x="494" y="134.4" font-size="5.3" text-anchor="middle" fill="#151515">24</text>
<rect x="487.15" y="53.8" width="2.26" height="71.6" fill="#d2d2d2" stroke="#8a8a8a" stroke-width="0.6"/>
<line x1="488.28" y1="53.5" x2="488.28" y2="48.5" stroke="#8a8a8a" stroke-width="0.6"/>
<line x1="487.18" y1="48.5" x2="489.38" y2="48.5" stroke="#5a5a5a" stroke-width="0.75"/>
<rect x="489.93" y="60.22" width="2.42" height="65.18" fill="#ff0000" stroke="rgba(40,0,0,0.75)" stroke-width="0.45"/>
<line x1="491.14" y1="60" x2="491.14" y2="58" stroke="#8a8a8a" stroke-width="0.6"/>
<line x1="490.04" y1="58" x2="492.24" y2="58" stroke="#5a5a5a" stroke-width="0.75"/>
<rect x="492.79" y="47.42" width="2.42" height="77.98" fill="#0000ff" stroke="rgba(0,0,30,0.75)" stroke-width="0.45"/>
<line x1="494" y1="47.2" x2="494" y2="38" stroke="#8a8a8a" stroke-width="0.6"/>
<line x1="492.9" y1="38" x2="495.1" y2="38" stroke="#5a5a5a" stroke-width="0.75"/>
<rect x="495.65" y="34.42" width="2.42" height="90.98" fill="#00ff00" stroke="rgba(0,30,0,0.75)" stroke-width="0.45"/>
<line x1="496.86" y1="34.2" x2="496.86" y2="27.2" stroke="#8a8a8a" stroke-width="0.6"/>
<line x1="495.76" y1="27.2" x2="497.96" y2="27.2" stroke="#5a5a5a" stroke-width="0.75"/>
<rect x="498.51" y="36.02" width="2.42" height="89.38" fill="#ff8000" stroke="rgba(50,20,0,0.75)" stroke-width="0.45"/>
<line x1="499.72" y1="35.8" x2="499.72" y2="28.5" stroke="#8a8a8a" stroke-width="0.6"/>
<line x1="498.62" y1="28.5" x2="500.82" y2="28.5" stroke="#5a5a5a" stroke-width="0.75"/>
<line x1="511.31" y1="125.4" x2="511.31" y2="126.6" stroke="#9a9a9a" stroke-width="0.75"/>
<text x="511.31" y="134.4" font-size="5.3" text-anchor="middle" fill="#151515">36</text>
<rect x="504.46" y="51.3" width="2.26" height="74.1" fill="#d2d2d2" stroke="#8a8a8a" stroke-width="0.6"/>
<line x1="505.59" y1="51" x2="505.59" y2="48.2" stroke="#8a8a8a" stroke-width="0.6"/>
<line x1="504.49" y1="48.2" x2="506.69" y2="48.2" stroke="#5a5a5a" stroke-width="0.75"/>
<rect x="507.24" y="56.42" width="2.42" height="68.98" fill="#ff0000" stroke="rgba(40,0,0,0.75)" stroke-width="0.45"/>
<line x1="508.45" y1="56.2" x2="508.45" y2="55" stroke="#8a8a8a" stroke-width="0.6"/>
<line x1="507.35" y1="55" x2="509.55" y2="55" stroke="#5a5a5a" stroke-width="0.75"/>
<rect x="510.1" y="38.72" width="2.42" height="86.68" fill="#0000ff" stroke="rgba(0,0,30,0.75)" stroke-width="0.45"/>
<line x1="511.31" y1="38.5" x2="511.31" y2="31.2" stroke="#8a8a8a" stroke-width="0.6"/>
<line x1="510.21" y1="31.2" x2="512.41" y2="31.2" stroke="#5a5a5a" stroke-width="0.75"/>
<rect x="512.96" y="34.42" width="2.42" height="90.98" fill="#00ff00" stroke="rgba(0,30,0,0.75)" stroke-width="0.45"/>
<line x1="514.17" y1="34.2" x2="514.17" y2="26.5" stroke="#8a8a8a" stroke-width="0.6"/>
<line x1="513.07" y1="26.5" x2="515.27" y2="26.5" stroke="#5a5a5a" stroke-width="0.75"/>
<rect x="515.82" y="25.72" width="2.42" height="99.68" fill="#ff8000" stroke="rgba(50,20,0,0.75)" stroke-width="0.45"/>
<line x1="517.03" y1="25.5" x2="517.03" y2="21.5" stroke="#8a8a8a" stroke-width="0.6"/>
<line x1="515.93" y1="21.5" x2="518.13" y2="21.5" stroke="#5a5a5a" stroke-width="0.75"/>
<line x1="528.62" y1="125.4" x2="528.62" y2="126.6" stroke="#9a9a9a" stroke-width="0.75"/>
<text x="528.62" y="134.4" font-size="5.3" text-anchor="middle" fill="#151515">47</text>
<rect x="521.77" y="47.8" width="2.26" height="77.6" fill="#d2d2d2" stroke="#8a8a8a" stroke-width="0.6"/>
<line x1="522.9" y1="47.5" x2="522.9" y2="42.2" stroke="#8a8a8a" stroke-width="0.6"/>
<line x1="521.8" y1="42.2" x2="524" y2="42.2" stroke="#5a5a5a" stroke-width="0.75"/>
<rect x="524.55" y="60.02" width="2.42" height="65.38" fill="#ff0000" stroke="rgba(40,0,0,0.75)" stroke-width="0.45"/>
<line x1="525.76" y1="59.8" x2="525.76" y2="57.2" stroke="#8a8a8a" stroke-width="0.6"/>
<line x1="524.66" y1="57.2" x2="526.86" y2="57.2" stroke="#5a5a5a" stroke-width="0.75"/>
<rect x="527.41" y="53.02" width="2.42" height="72.38" fill="#0000ff" stroke="rgba(0,0,30,0.75)" stroke-width="0.45"/>
<line x1="528.62" y1="52.8" x2="528.62" y2="45.2" stroke="#8a8a8a" stroke-width="0.6"/>
<line x1="527.52" y1="45.2" x2="529.72" y2="45.2" stroke="#5a5a5a" stroke-width="0.75"/>
<rect x="530.27" y="50.02" width="2.42" height="75.38" fill="#00ff00" stroke="rgba(0,30,0,0.75)" stroke-width="0.45"/>
<line x1="531.48" y1="49.8" x2="531.48" y2="46.5" stroke="#8a8a8a" stroke-width="0.6"/>
<line x1="530.38" y1="46.5" x2="532.58" y2="46.5" stroke="#5a5a5a" stroke-width="0.75"/>
<rect x="533.13" y="51.22" width="2.42" height="74.18" fill="#ff8000" stroke="rgba(50,20,0,0.75)" stroke-width="0.45"/>
<line x1="534.34" y1="51" x2="534.34" y2="49.5" stroke="#8a8a8a" stroke-width="0.6"/>
<line x1="533.24" y1="49.5" x2="535.44" y2="49.5" stroke="#5a5a5a" stroke-width="0.75"/>
<circle cx="447.8" cy="9.8" r="1.15" fill="#111"/>
<text x="461.8" y="30.4" font-size="5.3" text-anchor="middle" fill="#111" style="stroke-width:0.22px">‡</text>
<text x="466.7" y="16.2" font-size="5.3" text-anchor="middle" fill="#111" style="stroke-width:0.22px">†‡</text>
<text x="496.5" y="18.4" font-size="5.3" text-anchor="middle" fill="#111" style="stroke-width:0.22px">†</text>
<text x="500.2" y="20.7" font-size="5.3" text-anchor="middle" fill="#111" style="stroke-width:0.22px">†</text>
<text x="514" y="21.4" font-size="5.3" text-anchor="middle" fill="#111" style="stroke-width:0.22px">†</text>
<text x="518.3" y="14.3" font-size="5.3" text-anchor="middle" fill="#111" style="stroke-width:0.22px">†‡</text>
<text x="391.5" y="9.8" font-size="6.6" text-anchor="start" fill="#222">C</text>
<text transform="translate(374.2 71.2) rotate(-90)" x="0" y="1.78" font-size="5.95" text-anchor="middle" fill="#151515">Arterial pO<tspan font-size="4" dy="1.2">2</tspan><tspan dy="-1.2"> (mmHg)</tspan></text>
<text x="487.7" y="144.7" font-size="6.45" text-anchor="start" fill="#151515">Time after ASPH (h)</text>
<line x1="24.4" y1="167.3" x2="24.4" y2="280.7" stroke="#9a9a9a" stroke-width="0.75"/>
<line x1="24.4" y1="280.3" x2="181.5" y2="280.3" stroke="#9a9a9a" stroke-width="0.75"/>
<line x1="23.2" y1="280.3" x2="24.4" y2="280.3" stroke="#9a9a9a" stroke-width="0.75"/>
<text x="20.6" y="281.9" font-size="5.3" text-anchor="end" fill="#262626">2</text>
<line x1="23.2" y1="261.46" x2="24.4" y2="261.46" stroke="#9a9a9a" stroke-width="0.75"/>
<text x="20.6" y="263.06" font-size="5.3" text-anchor="end" fill="#262626">4</text>
<line x1="23.2" y1="242.62" x2="24.4" y2="242.62" stroke="#9a9a9a" stroke-width="0.75"/>
<text x="20.6" y="244.22" font-size="5.3" text-anchor="end" fill="#262626">6</text>
<line x1="23.2" y1="223.78" x2="24.4" y2="223.78" stroke="#9a9a9a" stroke-width="0.75"/>
<text x="20.6" y="225.38" font-size="5.3" text-anchor="end" fill="#262626">8</text>
<line x1="23.2" y1="204.94" x2="24.4" y2="204.94" stroke="#9a9a9a" stroke-width="0.75"/>
<text x="20.6" y="206.54" font-size="5.3" text-anchor="end" fill="#262626">10</text>
<line x1="23.2" y1="186.1" x2="24.4" y2="186.1" stroke="#9a9a9a" stroke-width="0.75"/>
<text x="20.6" y="187.7" font-size="5.3" text-anchor="end" fill="#262626">12</text>
<line x1="23.2" y1="167.26" x2="24.4" y2="167.26" stroke="#9a9a9a" stroke-width="0.75"/>
<text x="20.6" y="168.86" font-size="5.3" text-anchor="end" fill="#262626">14</text>
<line x1="39.25" y1="280.3" x2="39.25" y2="281.5" stroke="#9a9a9a" stroke-width="0.75"/>
<text x="39.25" y="289.1" font-size="5.3" text-anchor="middle" fill="#151515">B</text>
<rect x="32.3" y="247.3" width="2.3" height="33" fill="#d2d2d2" stroke="#8a8a8a" stroke-width="0.6"/>
<line x1="33.45" y1="247" x2="33.45" y2="239" stroke="#8a8a8a" stroke-width="0.6"/>
<line x1="32.35" y1="239" x2="34.55" y2="239" stroke="#5a5a5a" stroke-width="0.75"/>
<rect x="35.12" y="242.62" width="2.46" height="37.68" fill="#ff0000" stroke="rgba(40,0,0,0.75)" stroke-width="0.45"/>
<line x1="36.35" y1="242.4" x2="36.35" y2="239" stroke="#8a8a8a" stroke-width="0.6"/>
<line x1="35.25" y1="239" x2="37.45" y2="239" stroke="#5a5a5a" stroke-width="0.75"/>
<rect x="38.02" y="240.02" width="2.46" height="40.28" fill="#0000ff" stroke="rgba(0,0,30,0.75)" stroke-width="0.45"/>
<line x1="39.25" y1="239.8" x2="39.25" y2="233.4" stroke="#8a8a8a" stroke-width="0.6"/>
<line x1="38.15" y1="233.4" x2="40.35" y2="233.4" stroke="#5a5a5a" stroke-width="0.75"/>
<rect x="40.92" y="240.02" width="2.46" height="40.28" fill="#00ff00" stroke="rgba(0,30,0,0.75)" stroke-width="0.45"/>
<line x1="42.15" y1="239.8" x2="42.15" y2="235.3" stroke="#8a8a8a" stroke-width="0.6"/>
<line x1="41.05" y1="235.3" x2="43.25" y2="235.3" stroke="#5a5a5a" stroke-width="0.75"/>
<rect x="43.82" y="249.12" width="2.46" height="31.18" fill="#ff8000" stroke="rgba(50,20,0,0.75)" stroke-width="0.45"/>
<line x1="45.05" y1="248.9" x2="45.05" y2="245.4" stroke="#8a8a8a" stroke-width="0.6"/>
<line x1="43.95" y1="245.4" x2="46.15" y2="245.4" stroke="#5a5a5a" stroke-width="0.75"/>
<line x1="57.25" y1="280.3" x2="57.25" y2="281.5" stroke="#9a9a9a" stroke-width="0.75"/>
<text x="57.25" y="289.1" font-size="5.3" text-anchor="middle" fill="#151515">ASPH</text>
<rect x="53.12" y="227.42" width="2.46" height="52.88" fill="#ff0000" stroke="rgba(40,0,0,0.75)" stroke-width="0.45"/>
<line x1="54.35" y1="227.2" x2="54.35" y2="218.5" stroke="#8a8a8a" stroke-width="0.6"/>
<line x1="53.25" y1="218.5" x2="55.45" y2="218.5" stroke="#5a5a5a" stroke-width="0.75"/>
<rect x="56.02" y="198.42" width="2.46" height="81.88" fill="#0000ff" stroke="rgba(0,0,30,0.75)" stroke-width="0.45"/>
<line x1="57.25" y1="198.2" x2="57.25" y2="179.5" stroke="#8a8a8a" stroke-width="0.6"/>
<line x1="56.15" y1="179.5" x2="58.35" y2="179.5" stroke="#5a5a5a" stroke-width="0.75"/>
<rect x="58.92" y="198.42" width="2.46" height="81.88" fill="#00ff00" stroke="rgba(0,30,0,0.75)" stroke-width="0.45"/>
<line x1="60.15" y1="198.2" x2="60.15" y2="188.5" stroke="#8a8a8a" stroke-width="0.6"/>
<line x1="59.05" y1="188.5" x2="61.25" y2="188.5" stroke="#5a5a5a" stroke-width="0.75"/>
<rect x="61.82" y="204.12" width="2.46" height="76.18" fill="#ff8000" stroke="rgba(50,20,0,0.75)" stroke-width="0.45"/>
<line x1="63.05" y1="203.9" x2="63.05" y2="186" stroke="#8a8a8a" stroke-width="0.6"/>
<line x1="61.95" y1="186" x2="64.15" y2="186" stroke="#5a5a5a" stroke-width="0.75"/>
<line x1="75.25" y1="280.3" x2="75.25" y2="281.5" stroke="#9a9a9a" stroke-width="0.75"/>
<text x="75.25" y="289.1" font-size="5.3" text-anchor="middle" fill="#151515">1</text>
<rect x="68.3" y="254.3" width="2.3" height="26" fill="#d2d2d2" stroke="#8a8a8a" stroke-width="0.6"/>
<line x1="69.45" y1="254" x2="69.45" y2="244.5" stroke="#8a8a8a" stroke-width="0.6"/>
<line x1="68.35" y1="244.5" x2="70.55" y2="244.5" stroke="#5a5a5a" stroke-width="0.75"/>
<rect x="71.12" y="228.72" width="2.46" height="51.58" fill="#ff0000" stroke="rgba(40,0,0,0.75)" stroke-width="0.45"/>
<line x1="72.35" y1="228.5" x2="72.35" y2="222.2" stroke="#8a8a8a" stroke-width="0.6"/>
<line x1="71.25" y1="222.2" x2="73.45" y2="222.2" stroke="#5a5a5a" stroke-width="0.75"/>
<rect x="74.02" y="216.22" width="2.46" height="64.08" fill="#0000ff" stroke="rgba(0,0,30,0.75)" stroke-width="0.45"/>
<line x1="75.25" y1="216" x2="75.25" y2="206.5" stroke="#8a8a8a" stroke-width="0.6"/>
<line x1="74.15" y1="206.5" x2="76.35" y2="206.5" stroke="#5a5a5a" stroke-width="0.75"/>
<rect x="76.92" y="216.22" width="2.46" height="64.08" fill="#00ff00" stroke="rgba(0,30,0,0.75)" stroke-width="0.45"/>
<line x1="78.15" y1="216" x2="78.15" y2="208.5" stroke="#8a8a8a" stroke-width="0.6"/>
<line x1="77.05" y1="208.5" x2="79.25" y2="208.5" stroke="#5a5a5a" stroke-width="0.75"/>
<rect x="79.82" y="220.92" width="2.46" height="59.38" fill="#ff8000" stroke="rgba(50,20,0,0.75)" stroke-width="0.45"/>
<line x1="81.05" y1="220.7" x2="81.05" y2="210.5" stroke="#8a8a8a" stroke-width="0.6"/>
<line x1="79.95" y1="210.5" x2="82.15" y2="210.5" stroke="#5a5a5a" stroke-width="0.75"/>
<line x1="93.25" y1="280.3" x2="93.25" y2="281.5" stroke="#9a9a9a" stroke-width="0.75"/>
<text x="93.25" y="289.1" font-size="5.3" text-anchor="middle" fill="#151515">4</text>
<rect x="86.3" y="252.8" width="2.3" height="27.5" fill="#d2d2d2" stroke="#8a8a8a" stroke-width="0.6"/>
<line x1="87.45" y1="252.5" x2="87.45" y2="248.5" stroke="#8a8a8a" stroke-width="0.6"/>
<line x1="86.35" y1="248.5" x2="88.55" y2="248.5" stroke="#5a5a5a" stroke-width="0.75"/>
<rect x="89.12" y="244.42" width="2.46" height="35.88" fill="#ff0000" stroke="rgba(40,0,0,0.75)" stroke-width="0.45"/>
<line x1="90.35" y1="244.2" x2="90.35" y2="242.5" stroke="#8a8a8a" stroke-width="0.6"/>
<line x1="89.25" y1="242.5" x2="91.45" y2="242.5" stroke="#5a5a5a" stroke-width="0.75"/>
<rect x="92.02" y="236.22" width="2.46" height="44.08" fill="#0000ff" stroke="rgba(0,0,30,0.75)" stroke-width="0.45"/>
<line x1="93.25" y1="236" x2="93.25" y2="229.5" stroke="#8a8a8a" stroke-width="0.6"/>
<line x1="92.15" y1="229.5" x2="94.35" y2="229.5" stroke="#5a5a5a" stroke-width="0.75"/>
<rect x="94.92" y="225.22" width="2.46" height="55.08" fill="#00ff00" stroke="rgba(0,30,0,0.75)" stroke-width="0.45"/>
<line x1="96.15" y1="225" x2="96.15" y2="219" stroke="#8a8a8a" stroke-width="0.6"/>
<line x1="95.05" y1="219" x2="97.25" y2="219" stroke="#5a5a5a" stroke-width="0.75"/>
<rect x="97.82" y="245.22" width="2.46" height="35.08" fill="#ff8000" stroke="rgba(50,20,0,0.75)" stroke-width="0.45"/>
<line x1="99.05" y1="245" x2="99.05" y2="242" stroke="#8a8a8a" stroke-width="0.6"/>
<line x1="97.95" y1="242" x2="100.15" y2="242" stroke="#5a5a5a" stroke-width="0.75"/>
<line x1="111.25" y1="280.3" x2="111.25" y2="281.5" stroke="#9a9a9a" stroke-width="0.75"/>
<text x="111.25" y="289.1" font-size="5.3" text-anchor="middle" fill="#151515">12</text>
<rect x="104.3" y="250.8" width="2.3" height="29.5" fill="#d2d2d2" stroke="#8a8a8a" stroke-width="0.6"/>
<line x1="105.45" y1="250.5" x2="105.45" y2="241.5" stroke="#8a8a8a" stroke-width="0.6"/>
<line x1="104.35" y1="241.5" x2="106.55" y2="241.5" stroke="#5a5a5a" stroke-width="0.75"/>
<rect x="107.12" y="252.42" width="2.46" height="27.88" fill="#ff0000" stroke="rgba(40,0,0,0.75)" stroke-width="0.45"/>
<line x1="108.35" y1="252.2" x2="108.35" y2="251" stroke="#8a8a8a" stroke-width="0.6"/>
<line x1="107.25" y1="251" x2="109.45" y2="251" stroke="#5a5a5a" stroke-width="0.75"/>
<rect x="110.02" y="249.22" width="2.46" height="31.08" fill="#0000ff" stroke="rgba(0,0,30,0.75)" stroke-width="0.45"/>
<line x1="111.25" y1="249" x2="111.25" y2="244" stroke="#8a8a8a" stroke-width="0.6"/>
<line x1="110.15" y1="244" x2="112.35" y2="244" stroke="#5a5a5a" stroke-width="0.75"/>
<rect x="112.92" y="250.22" width="2.46" height="30.08" fill="#00ff00" stroke="rgba(0,30,0,0.75)" stroke-width="0.45"/>
<line x1="114.15" y1="250" x2="114.15" y2="246.5" stroke="#8a8a8a" stroke-width="0.6"/>
<line x1="113.05" y1="246.5" x2="115.25" y2="246.5" stroke="#5a5a5a" stroke-width="0.75"/>
<rect x="115.82" y="232.22" width="2.46" height="48.08" fill="#ff8000" stroke="rgba(50,20,0,0.75)" stroke-width="0.45"/>
<line x1="117.05" y1="232" x2="117.05" y2="230.5" stroke="#8a8a8a" stroke-width="0.6"/>
<line x1="115.95" y1="230.5" x2="118.15" y2="230.5" stroke="#5a5a5a" stroke-width="0.75"/>
<line x1="129.25" y1="280.3" x2="129.25" y2="281.5" stroke="#9a9a9a" stroke-width="0.75"/>
<text x="129.25" y="289.1" font-size="5.3" text-anchor="middle" fill="#151515">24</text>
<rect x="122.3" y="257.3" width="2.3" height="23" fill="#d2d2d2" stroke="#8a8a8a" stroke-width="0.6"/>
<line x1="123.45" y1="257" x2="123.45" y2="253.5" stroke="#8a8a8a" stroke-width="0.6"/>
<line x1="122.35" y1="253.5" x2="124.55" y2="253.5" stroke="#5a5a5a" stroke-width="0.75"/>
<rect x="125.12" y="251.72" width="2.46" height="28.58" fill="#ff0000" stroke="rgba(40,0,0,0.75)" stroke-width="0.45"/>
<line x1="126.35" y1="251.5" x2="126.35" y2="248.5" stroke="#8a8a8a" stroke-width="0.6"/>
<line x1="125.25" y1="248.5" x2="127.45" y2="248.5" stroke="#5a5a5a" stroke-width="0.75"/>
<rect x="128.02" y="256.02" width="2.46" height="24.28" fill="#0000ff" stroke="rgba(0,0,30,0.75)" stroke-width="0.45"/>
<line x1="129.25" y1="255.8" x2="129.25" y2="253" stroke="#8a8a8a" stroke-width="0.6"/>
<line x1="128.15" y1="253" x2="130.35" y2="253" stroke="#5a5a5a" stroke-width="0.75"/>
<rect x="130.92" y="252.02" width="2.46" height="28.28" fill="#00ff00" stroke="rgba(0,30,0,0.75)" stroke-width="0.45"/>
<line x1="132.15" y1="251.8" x2="132.15" y2="247.8" stroke="#8a8a8a" stroke-width="0.6"/>
<line x1="131.05" y1="247.8" x2="133.25" y2="247.8" stroke="#5a5a5a" stroke-width="0.75"/>
<rect x="133.82" y="245.02" width="2.46" height="35.28" fill="#ff8000" stroke="rgba(50,20,0,0.75)" stroke-width="0.45"/>
<line x1="135.05" y1="244.8" x2="135.05" y2="240.5" stroke="#8a8a8a" stroke-width="0.6"/>
<line x1="133.95" y1="240.5" x2="136.15" y2="240.5" stroke="#5a5a5a" stroke-width="0.75"/>
<line x1="147.25" y1="280.3" x2="147.25" y2="281.5" stroke="#9a9a9a" stroke-width="0.75"/>
<text x="147.25" y="289.1" font-size="5.3" text-anchor="middle" fill="#151515">36</text>
<rect x="140.3" y="265.8" width="2.3" height="14.5" fill="#d2d2d2" stroke="#8a8a8a" stroke-width="0.6"/>
<line x1="141.45" y1="265.5" x2="141.45" y2="258.5" stroke="#8a8a8a" stroke-width="0.6"/>
<line x1="140.35" y1="258.5" x2="142.55" y2="258.5" stroke="#5a5a5a" stroke-width="0.75"/>
<rect x="143.12" y="253.22" width="2.46" height="27.08" fill="#ff0000" stroke="rgba(40,0,0,0.75)" stroke-width="0.45"/>
<line x1="144.35" y1="253" x2="144.35" y2="251.3" stroke="#8a8a8a" stroke-width="0.6"/>
<line x1="143.25" y1="251.3" x2="145.45" y2="251.3" stroke="#5a5a5a" stroke-width="0.75"/>
<rect x="146.02" y="243.62" width="2.46" height="36.68" fill="#0000ff" stroke="rgba(0,0,30,0.75)" stroke-width="0.45"/>
<line x1="147.25" y1="243.4" x2="147.25" y2="233.5" stroke="#8a8a8a" stroke-width="0.6"/>
<line x1="146.15" y1="233.5" x2="148.35" y2="233.5" stroke="#5a5a5a" stroke-width="0.75"/>
<rect x="148.92" y="246.92" width="2.46" height="33.38" fill="#00ff00" stroke="rgba(0,30,0,0.75)" stroke-width="0.45"/>
<line x1="150.15" y1="246.7" x2="150.15" y2="240.5" stroke="#8a8a8a" stroke-width="0.6"/>
<line x1="149.05" y1="240.5" x2="151.25" y2="240.5" stroke="#5a5a5a" stroke-width="0.75"/>
<rect x="151.82" y="250.22" width="2.46" height="30.08" fill="#ff8000" stroke="rgba(50,20,0,0.75)" stroke-width="0.45"/>
<line x1="153.05" y1="250" x2="153.05" y2="243.8" stroke="#8a8a8a" stroke-width="0.6"/>
<line x1="151.95" y1="243.8" x2="154.15" y2="243.8" stroke="#5a5a5a" stroke-width="0.75"/>
<line x1="165.25" y1="280.3" x2="165.25" y2="281.5" stroke="#9a9a9a" stroke-width="0.75"/>
<text x="165.25" y="289.1" font-size="5.3" text-anchor="middle" fill="#151515">47</text>
<rect x="158.3" y="252.9" width="2.3" height="27.4" fill="#d2d2d2" stroke="#8a8a8a" stroke-width="0.6"/>
<line x1="159.45" y1="252.6" x2="159.45" y2="247.6" stroke="#8a8a8a" stroke-width="0.6"/>
<line x1="158.35" y1="247.6" x2="160.55" y2="247.6" stroke="#5a5a5a" stroke-width="0.75"/>
<rect x="161.12" y="260.52" width="2.46" height="19.78" fill="#ff0000" stroke="rgba(40,0,0,0.75)" stroke-width="0.45"/>
<line x1="162.35" y1="260.3" x2="162.35" y2="257.2" stroke="#8a8a8a" stroke-width="0.6"/>
<line x1="161.25" y1="257.2" x2="163.45" y2="257.2" stroke="#5a5a5a" stroke-width="0.75"/>
<rect x="164.02" y="241.22" width="2.46" height="39.08" fill="#0000ff" stroke="rgba(0,0,30,0.75)" stroke-width="0.45"/>
<line x1="165.25" y1="241" x2="165.25" y2="233.5" stroke="#8a8a8a" stroke-width="0.6"/>
<line x1="164.15" y1="233.5" x2="166.35" y2="233.5" stroke="#5a5a5a" stroke-width="0.75"/>
<rect x="166.92" y="247.62" width="2.46" height="32.68" fill="#00ff00" stroke="rgba(0,30,0,0.75)" stroke-width="0.45"/>
<line x1="168.15" y1="247.4" x2="168.15" y2="244.5" stroke="#8a8a8a" stroke-width="0.6"/>
<line x1="167.05" y1="244.5" x2="169.25" y2="244.5" stroke="#5a5a5a" stroke-width="0.75"/>
<rect x="169.82" y="243.62" width="2.46" height="36.68" fill="#ff8000" stroke="rgba(50,20,0,0.75)" stroke-width="0.45"/>
<line x1="171.05" y1="243.4" x2="171.05" y2="239.5" stroke="#8a8a8a" stroke-width="0.6"/>
<line x1="169.95" y1="239.5" x2="172.15" y2="239.5" stroke="#5a5a5a" stroke-width="0.75"/>
<text x="22.8" y="159.7" font-size="6.6" text-anchor="start" fill="#222">D</text>
<text transform="translate(7.8 222) rotate(-90)" x="0" y="1.9" font-size="6.35" text-anchor="middle" fill="#151515">Blood glucose (mmol/l)</text>
<text x="126.4" y="296.7" font-size="6.45" text-anchor="start" fill="#151515">Time after ASPH (h)</text>
<line x1="211.3" y1="167.7" x2="211.3" y2="279.9" stroke="#9a9a9a" stroke-width="0.75"/>
<line x1="211.3" y1="279.5" x2="367.5" y2="279.5" stroke="#9a9a9a" stroke-width="0.75"/>
<line x1="210.1" y1="279.5" x2="211.3" y2="279.5" stroke="#9a9a9a" stroke-width="0.75"/>
<text x="207.5" y="281.1" font-size="5.3" text-anchor="end" fill="#262626">0</text>
<line x1="210.1" y1="265.52" x2="211.3" y2="265.52" stroke="#9a9a9a" stroke-width="0.75"/>
<text x="207.5" y="267.12" font-size="5.3" text-anchor="end" fill="#262626">2</text>
<line x1="210.1" y1="251.54" x2="211.3" y2="251.54" stroke="#9a9a9a" stroke-width="0.75"/>
<text x="207.5" y="253.14" font-size="5.3" text-anchor="end" fill="#262626">4</text>
<line x1="210.1" y1="237.56" x2="211.3" y2="237.56" stroke="#9a9a9a" stroke-width="0.75"/>
<text x="207.5" y="239.16" font-size="5.3" text-anchor="end" fill="#262626">6</text>
<line x1="210.1" y1="223.58" x2="211.3" y2="223.58" stroke="#9a9a9a" stroke-width="0.75"/>
<text x="207.5" y="225.18" font-size="5.3" text-anchor="end" fill="#262626">8</text>
<line x1="210.1" y1="209.6" x2="211.3" y2="209.6" stroke="#9a9a9a" stroke-width="0.75"/>
<text x="207.5" y="211.2" font-size="5.3" text-anchor="end" fill="#262626">10</text>
<line x1="210.1" y1="195.62" x2="211.3" y2="195.62" stroke="#9a9a9a" stroke-width="0.75"/>
<text x="207.5" y="197.22" font-size="5.3" text-anchor="end" fill="#262626">12</text>
<line x1="210.1" y1="181.64" x2="211.3" y2="181.64" stroke="#9a9a9a" stroke-width="0.75"/>
<text x="207.5" y="183.24" font-size="5.3" text-anchor="end" fill="#262626">14</text>
<line x1="210.1" y1="167.66" x2="211.3" y2="167.66" stroke="#9a9a9a" stroke-width="0.75"/>
<text x="207.5" y="169.26" font-size="5.3" text-anchor="end" fill="#262626">16</text>
<line x1="225.75" y1="279.5" x2="225.75" y2="280.7" stroke="#9a9a9a" stroke-width="0.75"/>
<text x="225.75" y="288.8" font-size="5.3" text-anchor="middle" fill="#151515">B</text>
<rect x="218.8" y="255.3" width="2.3" height="24.2" fill="#d2d2d2" stroke="#8a8a8a" stroke-width="0.6"/>
<line x1="219.95" y1="255" x2="219.95" y2="245" stroke="#8a8a8a" stroke-width="0.6"/>
<line x1="218.85" y1="245" x2="221.05" y2="245" stroke="#5a5a5a" stroke-width="0.75"/>
<rect x="221.62" y="260.22" width="2.46" height="19.28" fill="#ff0000" stroke="rgba(40,0,0,0.75)" stroke-width="0.45"/>
<line x1="222.85" y1="260" x2="222.85" y2="257.2" stroke="#8a8a8a" stroke-width="0.6"/>
<line x1="221.75" y1="257.2" x2="223.95" y2="257.2" stroke="#5a5a5a" stroke-width="0.75"/>
<rect x="224.52" y="267.42" width="2.46" height="12.08" fill="#0000ff" stroke="rgba(0,0,30,0.75)" stroke-width="0.45"/>
<line x1="225.75" y1="267.2" x2="225.75" y2="265.5" stroke="#8a8a8a" stroke-width="0.6"/>
<line x1="224.65" y1="265.5" x2="226.85" y2="265.5" stroke="#5a5a5a" stroke-width="0.75"/>
<rect x="227.42" y="263.22" width="2.46" height="16.28" fill="#00ff00" stroke="rgba(0,30,0,0.75)" stroke-width="0.45"/>
<line x1="228.65" y1="263" x2="228.65" y2="259.5" stroke="#8a8a8a" stroke-width="0.6"/>
<line x1="227.55" y1="259.5" x2="229.75" y2="259.5" stroke="#5a5a5a" stroke-width="0.75"/>
<rect x="230.32" y="262.42" width="2.46" height="17.08" fill="#ff8000" stroke="rgba(50,20,0,0.75)" stroke-width="0.45"/>
<line x1="231.55" y1="262.2" x2="231.55" y2="256.5" stroke="#8a8a8a" stroke-width="0.6"/>
<line x1="230.45" y1="256.5" x2="232.65" y2="256.5" stroke="#5a5a5a" stroke-width="0.75"/>
<line x1="243.7" y1="279.5" x2="243.7" y2="280.7" stroke="#9a9a9a" stroke-width="0.75"/>
<text x="243.7" y="288.8" font-size="5.3" text-anchor="middle" fill="#151515">ASPH</text>
<rect x="239.57" y="226.42" width="2.46" height="53.08" fill="#ff0000" stroke="rgba(40,0,0,0.75)" stroke-width="0.45"/>
<line x1="240.8" y1="226.2" x2="240.8" y2="221.5" stroke="#8a8a8a" stroke-width="0.6"/>
<line x1="239.7" y1="221.5" x2="241.9" y2="221.5" stroke="#5a5a5a" stroke-width="0.75"/>
<rect x="242.47" y="193.22" width="2.46" height="86.28" fill="#0000ff" stroke="rgba(0,0,30,0.75)" stroke-width="0.45"/>
<line x1="243.7" y1="193" x2="243.7" y2="178.3" stroke="#8a8a8a" stroke-width="0.6"/>
<line x1="242.6" y1="178.3" x2="244.8" y2="178.3" stroke="#5a5a5a" stroke-width="0.75"/>
<rect x="245.37" y="218.82" width="2.46" height="60.68" fill="#00ff00" stroke="rgba(0,30,0,0.75)" stroke-width="0.45"/>
<rect x="248.27" y="210.62" width="2.46" height="68.88" fill="#ff8000" stroke="rgba(50,20,0,0.75)" stroke-width="0.45"/>
<line x1="249.5" y1="210.4" x2="249.5" y2="203.5" stroke="#8a8a8a" stroke-width="0.6"/>
<line x1="248.4" y1="203.5" x2="250.6" y2="203.5" stroke="#5a5a5a" stroke-width="0.75"/>
<line x1="261.65" y1="279.5" x2="261.65" y2="280.7" stroke="#9a9a9a" stroke-width="0.75"/>
<text x="261.65" y="288.8" font-size="5.3" text-anchor="middle" fill="#151515">1</text>
<rect x="254.7" y="258.7" width="2.3" height="20.8" fill="#d2d2d2" stroke="#8a8a8a" stroke-width="0.6"/>
<line x1="255.85" y1="258.4" x2="255.85" y2="252.5" stroke="#8a8a8a" stroke-width="0.6"/>
<line x1="254.75" y1="252.5" x2="256.95" y2="252.5" stroke="#5a5a5a" stroke-width="0.75"/>
<rect x="257.52" y="230.42" width="2.46" height="49.08" fill="#ff0000" stroke="rgba(40,0,0,0.75)" stroke-width="0.45"/>
<line x1="258.75" y1="230.2" x2="258.75" y2="225.5" stroke="#8a8a8a" stroke-width="0.6"/>
<line x1="257.65" y1="225.5" x2="259.85" y2="225.5" stroke="#5a5a5a" stroke-width="0.75"/>
<rect x="260.42" y="227.42" width="2.46" height="52.08" fill="#0000ff" stroke="rgba(0,0,30,0.75)" stroke-width="0.45"/>
<line x1="261.65" y1="227.2" x2="261.65" y2="221.5" stroke="#8a8a8a" stroke-width="0.6"/>
<line x1="260.55" y1="221.5" x2="262.75" y2="221.5" stroke="#5a5a5a" stroke-width="0.75"/>
<rect x="263.32" y="227.22" width="2.46" height="52.28" fill="#00ff00" stroke="rgba(0,30,0,0.75)" stroke-width="0.45"/>
<line x1="264.55" y1="227" x2="264.55" y2="223.5" stroke="#8a8a8a" stroke-width="0.6"/>
<line x1="263.45" y1="223.5" x2="265.65" y2="223.5" stroke="#5a5a5a" stroke-width="0.75"/>
<rect x="266.22" y="225.72" width="2.46" height="53.78" fill="#ff8000" stroke="rgba(50,20,0,0.75)" stroke-width="0.45"/>
<line x1="267.45" y1="225.5" x2="267.45" y2="217.2" stroke="#8a8a8a" stroke-width="0.6"/>
<line x1="266.35" y1="217.2" x2="268.55" y2="217.2" stroke="#5a5a5a" stroke-width="0.75"/>
<line x1="279.6" y1="279.5" x2="279.6" y2="280.7" stroke="#9a9a9a" stroke-width="0.75"/>
<text x="279.6" y="288.8" font-size="5.3" text-anchor="middle" fill="#151515">4</text>
<rect x="272.65" y="271.5" width="2.3" height="8" fill="#d2d2d2" stroke="#8a8a8a" stroke-width="0.6"/>
<line x1="273.8" y1="271.2" x2="273.8" y2="269.5" stroke="#8a8a8a" stroke-width="0.6"/>
<line x1="272.7" y1="269.5" x2="274.9" y2="269.5" stroke="#5a5a5a" stroke-width="0.75"/>
<rect x="275.47" y="267.42" width="2.46" height="12.08" fill="#ff0000" stroke="rgba(40,0,0,0.75)" stroke-width="0.45"/>
<line x1="276.7" y1="267.2" x2="276.7" y2="265.5" stroke="#8a8a8a" stroke-width="0.6"/>
<line x1="275.6" y1="265.5" x2="277.8" y2="265.5" stroke="#5a5a5a" stroke-width="0.75"/>
<rect x="278.37" y="271.42" width="2.46" height="8.08" fill="#0000ff" stroke="rgba(0,0,30,0.75)" stroke-width="0.45"/>
<line x1="279.6" y1="271.2" x2="279.6" y2="270" stroke="#8a8a8a" stroke-width="0.6"/>
<line x1="278.5" y1="270" x2="280.7" y2="270" stroke="#5a5a5a" stroke-width="0.75"/>
<rect x="281.27" y="268.22" width="2.46" height="11.28" fill="#00ff00" stroke="rgba(0,30,0,0.75)" stroke-width="0.45"/>
<line x1="282.5" y1="268" x2="282.5" y2="266.5" stroke="#8a8a8a" stroke-width="0.6"/>
<line x1="281.4" y1="266.5" x2="283.6" y2="266.5" stroke="#5a5a5a" stroke-width="0.75"/>
<rect x="284.17" y="269.22" width="2.46" height="10.28" fill="#ff8000" stroke="rgba(50,20,0,0.75)" stroke-width="0.45"/>
<line x1="285.4" y1="269" x2="285.4" y2="265.5" stroke="#8a8a8a" stroke-width="0.6"/>
<line x1="284.3" y1="265.5" x2="286.5" y2="265.5" stroke="#5a5a5a" stroke-width="0.75"/>
<line x1="297.55" y1="279.5" x2="297.55" y2="280.7" stroke="#9a9a9a" stroke-width="0.75"/>
<text x="297.55" y="288.8" font-size="5.3" text-anchor="middle" fill="#151515">12</text>
<rect x="290.6" y="271.1" width="2.3" height="8.4" fill="#d2d2d2" stroke="#8a8a8a" stroke-width="0.6"/>
<line x1="291.75" y1="270.8" x2="291.75" y2="269.8" stroke="#8a8a8a" stroke-width="0.6"/>
<line x1="290.65" y1="269.8" x2="292.85" y2="269.8" stroke="#5a5a5a" stroke-width="0.75"/>
<rect x="293.42" y="268.02" width="2.46" height="11.48" fill="#ff0000" stroke="rgba(40,0,0,0.75)" stroke-width="0.45"/>
<line x1="294.65" y1="267.8" x2="294.65" y2="266.5" stroke="#8a8a8a" stroke-width="0.6"/>
<line x1="293.55" y1="266.5" x2="295.75" y2="266.5" stroke="#5a5a5a" stroke-width="0.75"/>
<rect x="296.32" y="271.22" width="2.46" height="8.28" fill="#0000ff" stroke="rgba(0,0,30,0.75)" stroke-width="0.45"/>
<line x1="297.55" y1="271" x2="297.55" y2="268.5" stroke="#8a8a8a" stroke-width="0.6"/>
<line x1="296.45" y1="268.5" x2="298.65" y2="268.5" stroke="#5a5a5a" stroke-width="0.75"/>
<rect x="299.22" y="272.72" width="2.46" height="6.78" fill="#00ff00" stroke="rgba(0,30,0,0.75)" stroke-width="0.45"/>
<line x1="300.45" y1="272.5" x2="300.45" y2="271" stroke="#8a8a8a" stroke-width="0.6"/>
<line x1="299.35" y1="271" x2="301.55" y2="271" stroke="#5a5a5a" stroke-width="0.75"/>
<rect x="302.12" y="268.42" width="2.46" height="11.08" fill="#ff8000" stroke="rgba(50,20,0,0.75)" stroke-width="0.45"/>
<line x1="303.35" y1="268.2" x2="303.35" y2="265.5" stroke="#8a8a8a" stroke-width="0.6"/>
<line x1="302.25" y1="265.5" x2="304.45" y2="265.5" stroke="#5a5a5a" stroke-width="0.75"/>
<line x1="315.5" y1="279.5" x2="315.5" y2="280.7" stroke="#9a9a9a" stroke-width="0.75"/>
<text x="315.5" y="288.8" font-size="5.3" text-anchor="middle" fill="#151515">24</text>
<rect x="308.55" y="271.5" width="2.3" height="8" fill="#d2d2d2" stroke="#8a8a8a" stroke-width="0.6"/>
<line x1="309.7" y1="271.2" x2="309.7" y2="270" stroke="#8a8a8a" stroke-width="0.6"/>
<line x1="308.6" y1="270" x2="310.8" y2="270" stroke="#5a5a5a" stroke-width="0.75"/>
<rect x="311.37" y="270.22" width="2.46" height="9.28" fill="#ff0000" stroke="rgba(40,0,0,0.75)" stroke-width="0.45"/>
<line x1="312.6" y1="270" x2="312.6" y2="268.5" stroke="#8a8a8a" stroke-width="0.6"/>
<line x1="311.5" y1="268.5" x2="313.7" y2="268.5" stroke="#5a5a5a" stroke-width="0.75"/>
<rect x="314.27" y="274.02" width="2.46" height="5.48" fill="#0000ff" stroke="rgba(0,0,30,0.75)" stroke-width="0.45"/>
<line x1="315.5" y1="273.8" x2="315.5" y2="272.5" stroke="#8a8a8a" stroke-width="0.6"/>
<line x1="314.4" y1="272.5" x2="316.6" y2="272.5" stroke="#5a5a5a" stroke-width="0.75"/>
<rect x="317.17" y="272.22" width="2.46" height="7.28" fill="#00ff00" stroke="rgba(0,30,0,0.75)" stroke-width="0.45"/>
<line x1="318.4" y1="272" x2="318.4" y2="270.5" stroke="#8a8a8a" stroke-width="0.6"/>
<line x1="317.3" y1="270.5" x2="319.5" y2="270.5" stroke="#5a5a5a" stroke-width="0.75"/>
<rect x="320.07" y="271.02" width="2.46" height="8.48" fill="#ff8000" stroke="rgba(50,20,0,0.75)" stroke-width="0.45"/>
<line x1="321.3" y1="270.8" x2="321.3" y2="269.5" stroke="#8a8a8a" stroke-width="0.6"/>
<line x1="320.2" y1="269.5" x2="322.4" y2="269.5" stroke="#5a5a5a" stroke-width="0.75"/>
<line x1="333.45" y1="279.5" x2="333.45" y2="280.7" stroke="#9a9a9a" stroke-width="0.75"/>
<text x="333.45" y="288.8" font-size="5.3" text-anchor="middle" fill="#151515">36</text>
<rect x="326.5" y="271.5" width="2.3" height="8" fill="#d2d2d2" stroke="#8a8a8a" stroke-width="0.6"/>
<line x1="327.65" y1="271.2" x2="327.65" y2="270" stroke="#8a8a8a" stroke-width="0.6"/>
<line x1="326.55" y1="270" x2="328.75" y2="270" stroke="#5a5a5a" stroke-width="0.75"/>
<rect x="329.32" y="271.22" width="2.46" height="8.28" fill="#ff0000" stroke="rgba(40,0,0,0.75)" stroke-width="0.45"/>
<line x1="330.55" y1="271" x2="330.55" y2="269.6" stroke="#8a8a8a" stroke-width="0.6"/>
<line x1="329.45" y1="269.6" x2="331.65" y2="269.6" stroke="#5a5a5a" stroke-width="0.75"/>
<rect x="332.22" y="273.02" width="2.46" height="6.48" fill="#0000ff" stroke="rgba(0,0,30,0.75)" stroke-width="0.45"/>
<line x1="333.45" y1="272.8" x2="333.45" y2="271.5" stroke="#8a8a8a" stroke-width="0.6"/>
<line x1="332.35" y1="271.5" x2="334.55" y2="271.5" stroke="#5a5a5a" stroke-width="0.75"/>
<rect x="335.12" y="271.62" width="2.46" height="7.88" fill="#00ff00" stroke="rgba(0,30,0,0.75)" stroke-width="0.45"/>
<line x1="336.35" y1="271.4" x2="336.35" y2="270.3" stroke="#8a8a8a" stroke-width="0.6"/>
<line x1="335.25" y1="270.3" x2="337.45" y2="270.3" stroke="#5a5a5a" stroke-width="0.75"/>
<rect x="338.02" y="272.72" width="2.46" height="6.78" fill="#ff8000" stroke="rgba(50,20,0,0.75)" stroke-width="0.45"/>
<line x1="339.25" y1="272.5" x2="339.25" y2="271.5" stroke="#8a8a8a" stroke-width="0.6"/>
<line x1="338.15" y1="271.5" x2="340.35" y2="271.5" stroke="#5a5a5a" stroke-width="0.75"/>
<line x1="351.4" y1="279.5" x2="351.4" y2="280.7" stroke="#9a9a9a" stroke-width="0.75"/>
<text x="351.4" y="288.8" font-size="5.3" text-anchor="middle" fill="#151515">47</text>
<rect x="344.45" y="273.1" width="2.3" height="6.4" fill="#d2d2d2" stroke="#8a8a8a" stroke-width="0.6"/>
<line x1="345.6" y1="272.8" x2="345.6" y2="271.5" stroke="#8a8a8a" stroke-width="0.6"/>
<line x1="344.5" y1="271.5" x2="346.7" y2="271.5" stroke="#5a5a5a" stroke-width="0.75"/>
<rect x="347.27" y="271.72" width="2.46" height="7.78" fill="#ff0000" stroke="rgba(40,0,0,0.75)" stroke-width="0.45"/>
<line x1="348.5" y1="271.5" x2="348.5" y2="270.5" stroke="#8a8a8a" stroke-width="0.6"/>
<line x1="347.4" y1="270.5" x2="349.6" y2="270.5" stroke="#5a5a5a" stroke-width="0.75"/>
<rect x="350.17" y="271.22" width="2.46" height="8.28" fill="#0000ff" stroke="rgba(0,0,30,0.75)" stroke-width="0.45"/>
<line x1="351.4" y1="271" x2="351.4" y2="270" stroke="#8a8a8a" stroke-width="0.6"/>
<line x1="350.3" y1="270" x2="352.5" y2="270" stroke="#5a5a5a" stroke-width="0.75"/>
<rect x="353.07" y="263.42" width="2.46" height="16.08" fill="#00ff00" stroke="rgba(0,30,0,0.75)" stroke-width="0.45"/>
<line x1="354.3" y1="263.2" x2="354.3" y2="257.8" stroke="#8a8a8a" stroke-width="0.6"/>
<line x1="353.2" y1="257.8" x2="355.4" y2="257.8" stroke="#5a5a5a" stroke-width="0.75"/>
<rect x="355.97" y="271.62" width="2.46" height="7.88" fill="#ff8000" stroke="rgba(50,20,0,0.75)" stroke-width="0.45"/>
<line x1="357.2" y1="271.4" x2="357.2" y2="270.5" stroke="#8a8a8a" stroke-width="0.6"/>
<line x1="356.1" y1="270.5" x2="358.3" y2="270.5" stroke="#5a5a5a" stroke-width="0.75"/>
<text x="243.5" y="173.9" font-size="5.3" text-anchor="middle" fill="#111" style="stroke-width:0.22px">†</text>
<circle cx="254.8" cy="241.8" r="1.15" fill="#111"/>
<text x="207.8" y="161.2" font-size="6.6" text-anchor="start" fill="#222">E</text>
<text transform="translate(193.6 222.6) rotate(-90)" x="0" y="1.89" font-size="6.3" text-anchor="middle" fill="#151515">Blood lactate (mmol/l)</text>
<text x="309.3" y="297.7" font-size="6.45" text-anchor="start" fill="#151515">Time after ASPH (h)</text>
<line x1="391.2" y1="168.5" x2="391.2" y2="279.7" stroke="#9a9a9a" stroke-width="0.75"/>
<line x1="391.2" y1="187" x2="546.2" y2="187" stroke="#8c8c8c" stroke-width="0.85"/>
<line x1="390" y1="168.53" x2="391.2" y2="168.53" stroke="#9a9a9a" stroke-width="0.75"/>
<text x="387.4" y="170.13" font-size="5.3" text-anchor="end" fill="#262626">5</text>
<line x1="390" y1="187" x2="391.2" y2="187" stroke="#9a9a9a" stroke-width="0.75"/>
<text x="387.4" y="188.6" font-size="5.3" text-anchor="end" fill="#262626">0</text>
<line x1="390" y1="205.47" x2="391.2" y2="205.47" stroke="#9a9a9a" stroke-width="0.75"/>
<text x="387.4" y="207.06" font-size="5.3" text-anchor="end" fill="#262626">-5</text>
<line x1="390" y1="223.93" x2="391.2" y2="223.93" stroke="#9a9a9a" stroke-width="0.75"/>
<text x="387.4" y="225.53" font-size="5.3" text-anchor="end" fill="#262626">-10</text>
<line x1="390" y1="242.4" x2="391.2" y2="242.4" stroke="#9a9a9a" stroke-width="0.75"/>
<text x="387.4" y="244" font-size="5.3" text-anchor="end" fill="#262626">-15</text>
<line x1="390" y1="260.86" x2="391.2" y2="260.86" stroke="#9a9a9a" stroke-width="0.75"/>
<text x="387.4" y="262.46" font-size="5.3" text-anchor="end" fill="#262626">-20</text>
<line x1="390" y1="279.32" x2="391.2" y2="279.32" stroke="#9a9a9a" stroke-width="0.75"/>
<text x="387.4" y="280.93" font-size="5.3" text-anchor="end" fill="#262626">-25</text>
<text x="417.55" y="287.4" font-size="5.3" text-anchor="middle" fill="#151515">ASPH</text>
<rect x="413.42" y="187.22" width="2.46" height="65.28" fill="#ff0000" stroke="rgba(40,0,0,0.75)" stroke-width="0.45"/>
<line x1="414.65" y1="252.5" x2="414.65" y2="258" stroke="#8a8a8a" stroke-width="0.6"/>
<line x1="413.55" y1="258" x2="415.75" y2="258" stroke="#5a5a5a" stroke-width="0.75"/>
<rect x="416.32" y="187.22" width="2.46" height="65.28" fill="#0000ff" stroke="rgba(0,0,30,0.75)" stroke-width="0.45"/>
<line x1="417.55" y1="252.5" x2="417.55" y2="258.5" stroke="#8a8a8a" stroke-width="0.6"/>
<line x1="416.45" y1="258.5" x2="418.65" y2="258.5" stroke="#5a5a5a" stroke-width="0.75"/>
<rect x="419.22" y="187.22" width="2.46" height="71.28" fill="#00ff00" stroke="rgba(0,30,0,0.75)" stroke-width="0.45"/>
<line x1="420.45" y1="258.5" x2="420.45" y2="263.5" stroke="#8a8a8a" stroke-width="0.6"/>
<line x1="419.35" y1="263.5" x2="421.55" y2="263.5" stroke="#5a5a5a" stroke-width="0.75"/>
<rect x="422.12" y="187.22" width="2.46" height="62.98" fill="#ff8000" stroke="rgba(50,20,0,0.75)" stroke-width="0.45"/>
<line x1="423.35" y1="250.2" x2="423.35" y2="255" stroke="#8a8a8a" stroke-width="0.6"/>
<line x1="422.25" y1="255" x2="424.45" y2="255" stroke="#5a5a5a" stroke-width="0.75"/>
<text x="436.1" y="287.4" font-size="5.3" text-anchor="middle" fill="#151515">1</text>
<rect x="429.15" y="187.3" width="2.3" height="0.9" fill="#d2d2d2" stroke="#8a8a8a" stroke-width="0.6"/>
<line x1="430.3" y1="188.2" x2="430.3" y2="194" stroke="#8a8a8a" stroke-width="0.6"/>
<line x1="429.2" y1="194" x2="431.4" y2="194" stroke="#5a5a5a" stroke-width="0.75"/>
<rect x="431.97" y="187.22" width="2.46" height="16.78" fill="#ff0000" stroke="rgba(40,0,0,0.75)" stroke-width="0.45"/>
<line x1="433.2" y1="204" x2="433.2" y2="206.8" stroke="#8a8a8a" stroke-width="0.6"/>
<line x1="432.1" y1="206.8" x2="434.3" y2="206.8" stroke="#5a5a5a" stroke-width="0.75"/>
<rect x="434.87" y="187.22" width="2.46" height="19.28" fill="#0000ff" stroke="rgba(0,0,30,0.75)" stroke-width="0.45"/>
<line x1="436.1" y1="206.5" x2="436.1" y2="209.5" stroke="#8a8a8a" stroke-width="0.6"/>
<line x1="435" y1="209.5" x2="437.2" y2="209.5" stroke="#5a5a5a" stroke-width="0.75"/>
<rect x="437.77" y="187.22" width="2.46" height="26.98" fill="#00ff00" stroke="rgba(0,30,0,0.75)" stroke-width="0.45"/>
<line x1="439" y1="214.2" x2="439" y2="219" stroke="#8a8a8a" stroke-width="0.6"/>
<line x1="437.9" y1="219" x2="440.1" y2="219" stroke="#5a5a5a" stroke-width="0.75"/>
<rect x="440.67" y="187.22" width="2.46" height="35.58" fill="#ff8000" stroke="rgba(50,20,0,0.75)" stroke-width="0.45"/>
<line x1="441.9" y1="222.8" x2="441.9" y2="225.9" stroke="#8a8a8a" stroke-width="0.6"/>
<line x1="440.8" y1="225.9" x2="443" y2="225.9" stroke="#5a5a5a" stroke-width="0.75"/>
<text x="454.65" y="287.4" font-size="5.3" text-anchor="middle" fill="#151515">4</text>
<rect x="447.7" y="182.3" width="2.3" height="4.7" fill="#d2d2d2" stroke="#8a8a8a" stroke-width="0.6"/>
<line x1="448.85" y1="182" x2="448.85" y2="177.2" stroke="#8a8a8a" stroke-width="0.6"/>
<line x1="447.75" y1="177.2" x2="449.95" y2="177.2" stroke="#5a5a5a" stroke-width="0.75"/>
<rect x="450.52" y="180.22" width="2.46" height="6.78" fill="#ff0000" stroke="rgba(40,0,0,0.75)" stroke-width="0.45"/>
<line x1="451.75" y1="180" x2="451.75" y2="175.2" stroke="#8a8a8a" stroke-width="0.6"/>
<line x1="450.65" y1="175.2" x2="452.85" y2="175.2" stroke="#5a5a5a" stroke-width="0.75"/>
<rect x="453.42" y="184.22" width="2.46" height="2.78" fill="#0000ff" stroke="rgba(0,0,30,0.75)" stroke-width="0.45"/>
<line x1="454.65" y1="184" x2="454.65" y2="178.2" stroke="#8a8a8a" stroke-width="0.6"/>
<line x1="453.55" y1="178.2" x2="455.75" y2="178.2" stroke="#5a5a5a" stroke-width="0.75"/>
<rect x="456.32" y="187.22" width="2.46" height="2.28" fill="#00ff00" stroke="rgba(0,30,0,0.75)" stroke-width="0.45"/>
<line x1="457.55" y1="189.5" x2="457.55" y2="194" stroke="#8a8a8a" stroke-width="0.6"/>
<line x1="456.45" y1="194" x2="458.65" y2="194" stroke="#5a5a5a" stroke-width="0.75"/>
<rect x="459.22" y="187.22" width="2.46" height="1.28" fill="#ff8000" stroke="rgba(50,20,0,0.75)" stroke-width="0.45"/>
<line x1="460.45" y1="188.5" x2="460.45" y2="194" stroke="#8a8a8a" stroke-width="0.6"/>
<line x1="459.35" y1="194" x2="461.55" y2="194" stroke="#5a5a5a" stroke-width="0.75"/>
<text x="473.2" y="287.4" font-size="5.3" text-anchor="middle" fill="#151515">12</text>
<rect x="466.25" y="182.3" width="2.3" height="4.7" fill="#d2d2d2" stroke="#8a8a8a" stroke-width="0.6"/>
<line x1="467.4" y1="182" x2="467.4" y2="175.5" stroke="#8a8a8a" stroke-width="0.6"/>
<line x1="466.3" y1="175.5" x2="468.5" y2="175.5" stroke="#5a5a5a" stroke-width="0.75"/>
<rect x="469.07" y="187.22" width="2.46" height="4.28" fill="#ff0000" stroke="rgba(40,0,0,0.75)" stroke-width="0.45"/>
<line x1="470.3" y1="191.5" x2="470.3" y2="196.5" stroke="#8a8a8a" stroke-width="0.6"/>
<line x1="469.2" y1="196.5" x2="471.4" y2="196.5" stroke="#5a5a5a" stroke-width="0.75"/>
<rect x="471.97" y="181.42" width="2.46" height="5.58" fill="#0000ff" stroke="rgba(0,0,30,0.75)" stroke-width="0.45"/>
<line x1="473.2" y1="181.2" x2="473.2" y2="178.5" stroke="#8a8a8a" stroke-width="0.6"/>
<line x1="472.1" y1="178.5" x2="474.3" y2="178.5" stroke="#5a5a5a" stroke-width="0.75"/>
<rect x="474.87" y="187.22" width="2.46" height="5.28" fill="#00ff00" stroke="rgba(0,30,0,0.75)" stroke-width="0.45"/>
<line x1="476.1" y1="192.5" x2="476.1" y2="198" stroke="#8a8a8a" stroke-width="0.6"/>
<line x1="475" y1="198" x2="477.2" y2="198" stroke="#5a5a5a" stroke-width="0.75"/>
<rect x="477.77" y="177.72" width="2.46" height="9.28" fill="#ff8000" stroke="rgba(50,20,0,0.75)" stroke-width="0.45"/>
<line x1="479" y1="177.5" x2="479" y2="172.2" stroke="#8a8a8a" stroke-width="0.6"/>
<line x1="477.9" y1="172.2" x2="480.1" y2="172.2" stroke="#5a5a5a" stroke-width="0.75"/>
<text x="491.75" y="287.4" font-size="5.3" text-anchor="middle" fill="#151515">24</text>
<rect x="484.8" y="182.5" width="2.3" height="4.5" fill="#d2d2d2" stroke="#8a8a8a" stroke-width="0.6"/>
<line x1="485.95" y1="182.2" x2="485.95" y2="175" stroke="#8a8a8a" stroke-width="0.6"/>
<line x1="484.85" y1="175" x2="487.05" y2="175" stroke="#5a5a5a" stroke-width="0.75"/>
<rect x="487.62" y="187.22" width="2.46" height="3.78" fill="#ff0000" stroke="rgba(40,0,0,0.75)" stroke-width="0.45"/>
<line x1="488.85" y1="191" x2="488.85" y2="195" stroke="#8a8a8a" stroke-width="0.6"/>
<line x1="487.75" y1="195" x2="489.95" y2="195" stroke="#5a5a5a" stroke-width="0.75"/>
<rect x="490.52" y="181.22" width="2.46" height="5.78" fill="#0000ff" stroke="rgba(0,0,30,0.75)" stroke-width="0.45"/>
<line x1="491.75" y1="181" x2="491.75" y2="176.5" stroke="#8a8a8a" stroke-width="0.6"/>
<line x1="490.65" y1="176.5" x2="492.85" y2="176.5" stroke="#5a5a5a" stroke-width="0.75"/>
<rect x="493.42" y="187.22" width="2.46" height="11.58" fill="#00ff00" stroke="rgba(0,30,0,0.75)" stroke-width="0.45"/>
<line x1="494.65" y1="198.8" x2="494.65" y2="205" stroke="#8a8a8a" stroke-width="0.6"/>
<line x1="493.55" y1="205" x2="495.75" y2="205" stroke="#5a5a5a" stroke-width="0.75"/>
<rect x="496.32" y="186.52" width="2.46" height="0.48" fill="#ff8000" stroke="rgba(50,20,0,0.75)" stroke-width="0.45"/>
<line x1="497.55" y1="186.3" x2="497.55" y2="180.2" stroke="#8a8a8a" stroke-width="0.6"/>
<line x1="496.45" y1="180.2" x2="498.65" y2="180.2" stroke="#5a5a5a" stroke-width="0.75"/>
<text x="510.3" y="287.4" font-size="5.3" text-anchor="middle" fill="#151515">36</text>
<rect x="503.35" y="187.3" width="2.3" height="0.7" fill="#d2d2d2" stroke="#8a8a8a" stroke-width="0.6"/>
<line x1="504.5" y1="188" x2="504.5" y2="196.6" stroke="#8a8a8a" stroke-width="0.6"/>
<line x1="503.4" y1="196.6" x2="505.6" y2="196.6" stroke="#5a5a5a" stroke-width="0.75"/>
<rect x="506.17" y="187.22" width="2.46" height="7.38" fill="#ff0000" stroke="rgba(40,0,0,0.75)" stroke-width="0.45"/>
<line x1="507.4" y1="194.6" x2="507.4" y2="199" stroke="#8a8a8a" stroke-width="0.6"/>
<line x1="506.3" y1="199" x2="508.5" y2="199" stroke="#5a5a5a" stroke-width="0.75"/>
<rect x="509.07" y="187.22" width="2.46" height="4.28" fill="#0000ff" stroke="rgba(0,0,30,0.75)" stroke-width="0.45"/>
<line x1="510.3" y1="191.5" x2="510.3" y2="198.2" stroke="#8a8a8a" stroke-width="0.6"/>
<line x1="509.2" y1="198.2" x2="511.4" y2="198.2" stroke="#5a5a5a" stroke-width="0.75"/>
<rect x="511.97" y="187.22" width="2.46" height="17.28" fill="#00ff00" stroke="rgba(0,30,0,0.75)" stroke-width="0.45"/>
<line x1="513.2" y1="204.5" x2="513.2" y2="211" stroke="#8a8a8a" stroke-width="0.6"/>
<line x1="512.1" y1="211" x2="514.3" y2="211" stroke="#5a5a5a" stroke-width="0.75"/>
<rect x="514.87" y="187.22" width="2.46" height="1.08" fill="#ff8000" stroke="rgba(50,20,0,0.75)" stroke-width="0.45"/>
<line x1="516.1" y1="188.3" x2="516.1" y2="197" stroke="#8a8a8a" stroke-width="0.6"/>
<line x1="515" y1="197" x2="517.2" y2="197" stroke="#5a5a5a" stroke-width="0.75"/>
<text x="528.85" y="287.4" font-size="5.3" text-anchor="middle" fill="#151515">47</text>
<rect x="521.9" y="187.3" width="2.3" height="11.2" fill="#d2d2d2" stroke="#8a8a8a" stroke-width="0.6"/>
<line x1="523.05" y1="198.5" x2="523.05" y2="209.2" stroke="#8a8a8a" stroke-width="0.6"/>
<line x1="521.95" y1="209.2" x2="524.15" y2="209.2" stroke="#5a5a5a" stroke-width="0.75"/>
<rect x="524.72" y="187.22" width="2.46" height="9.58" fill="#ff0000" stroke="rgba(40,0,0,0.75)" stroke-width="0.45"/>
<line x1="525.95" y1="196.8" x2="525.95" y2="201.8" stroke="#8a8a8a" stroke-width="0.6"/>
<line x1="524.85" y1="201.8" x2="527.05" y2="201.8" stroke="#5a5a5a" stroke-width="0.75"/>
<rect x="527.62" y="187.22" width="2.46" height="2.58" fill="#0000ff" stroke="rgba(0,0,30,0.75)" stroke-width="0.45"/>
<line x1="528.85" y1="189.8" x2="528.85" y2="199" stroke="#8a8a8a" stroke-width="0.6"/>
<line x1="527.75" y1="199" x2="529.95" y2="199" stroke="#5a5a5a" stroke-width="0.75"/>
<rect x="530.52" y="187.22" width="2.46" height="25.58" fill="#00ff00" stroke="rgba(0,30,0,0.75)" stroke-width="0.45"/>
<line x1="531.75" y1="212.8" x2="531.75" y2="218.4" stroke="#8a8a8a" stroke-width="0.6"/>
<line x1="530.65" y1="218.4" x2="532.85" y2="218.4" stroke="#5a5a5a" stroke-width="0.75"/>
<rect x="533.42" y="187.22" width="2.46" height="8.78" fill="#ff8000" stroke="rgba(50,20,0,0.75)" stroke-width="0.45"/>
<line x1="534.65" y1="196" x2="534.65" y2="204" stroke="#8a8a8a" stroke-width="0.6"/>
<line x1="533.55" y1="204" x2="535.75" y2="204" stroke="#5a5a5a" stroke-width="0.75"/>
<text x="439.3" y="230" font-size="5.3" text-anchor="middle" fill="#111" style="stroke-width:0.22px">‡</text>
<text x="442.6" y="237.2" font-size="5.3" text-anchor="middle" fill="#111" style="stroke-width:0.22px">‡</text>
<text x="532.1" y="229.2" font-size="5.3" text-anchor="middle" fill="#111" style="stroke-width:0.22px">#</text>
<text x="392.2" y="161.6" font-size="6.6" text-anchor="start" fill="#222">F</text>
<text transform="translate(373 217.5) rotate(-90)" x="0" y="1.86" font-size="6.2" text-anchor="middle" fill="#151515">delta Base excess</text>
<text x="489.3" y="297.5" font-size="6.45" text-anchor="start" fill="#151515">Time after ASPH (h)</text>
<rect x="305.4" y="8.8" width="13.2" height="4" fill="#dcdcdc" stroke="#444" stroke-width="0.6"/>
<text x="323.5" y="12.9" font-size="5.8" text-anchor="start" fill="#151515">C-NT</text>
<rect x="305.4" y="15.9" width="13.2" height="4" fill="#ff0000" stroke="#444" stroke-width="0.6"/>
<text x="323.5" y="20" font-size="5.8" text-anchor="start" fill="#151515">A-NT</text>
<rect x="305.4" y="23" width="13.2" height="4" fill="#0000ff" stroke="#444" stroke-width="0.6"/>
<text x="323.5" y="27.1" font-size="5.8" text-anchor="start" fill="#151515">A-HT</text>
<rect x="305.4" y="29.8" width="13.2" height="4" fill="#00ff00" stroke="#444" stroke-width="0.6"/>
<text x="323.5" y="33.9" font-size="5.8" text-anchor="start" fill="#151515">A-HT+H<tspan font-size="4" dy="1.2">2</tspan></text>
<rect x="305.4" y="36.6" width="13.2" height="4" fill="#ff8000" stroke="#444" stroke-width="0.6"/>
<text x="323.5" y="40.7" font-size="5.8" text-anchor="start" fill="#151515">A-HT+CO<tspan font-size="4" dy="1.2">2</tspan></text>
<circle cx="309.2" cy="174.9" r="1.1" fill="#111"/>
<text x="313.6" y="176.9" font-size="5.75" text-anchor="start" fill="#151515"><tspan font-style="italic">vs</tspan> all groups</text>
<text x="308.8" y="185" font-size="5.6" text-anchor="middle" fill="#111" font-weight="bold">‡</text>
<text x="313.6" y="185.1" font-size="5.75" text-anchor="start" fill="#151515"><tspan font-style="italic">vs</tspan> C-NT</text>
<text x="308.8" y="191.7" font-size="5.6" text-anchor="middle" fill="#111" font-weight="bold">†</text>
<text x="313.6" y="191.8" font-size="5.75" text-anchor="start" fill="#151515"><tspan font-style="italic">vs</tspan> A-NT</text>
<text x="308.8" y="198.1" font-size="5.6" text-anchor="middle" fill="#111" font-weight="bold">#</text>
<text x="313.6" y="198.2" font-size="5.75" text-anchor="start" fill="#151515"><tspan font-style="italic">vs</tspan> A-HT</text>
</g>
</svg>
</body></html>
